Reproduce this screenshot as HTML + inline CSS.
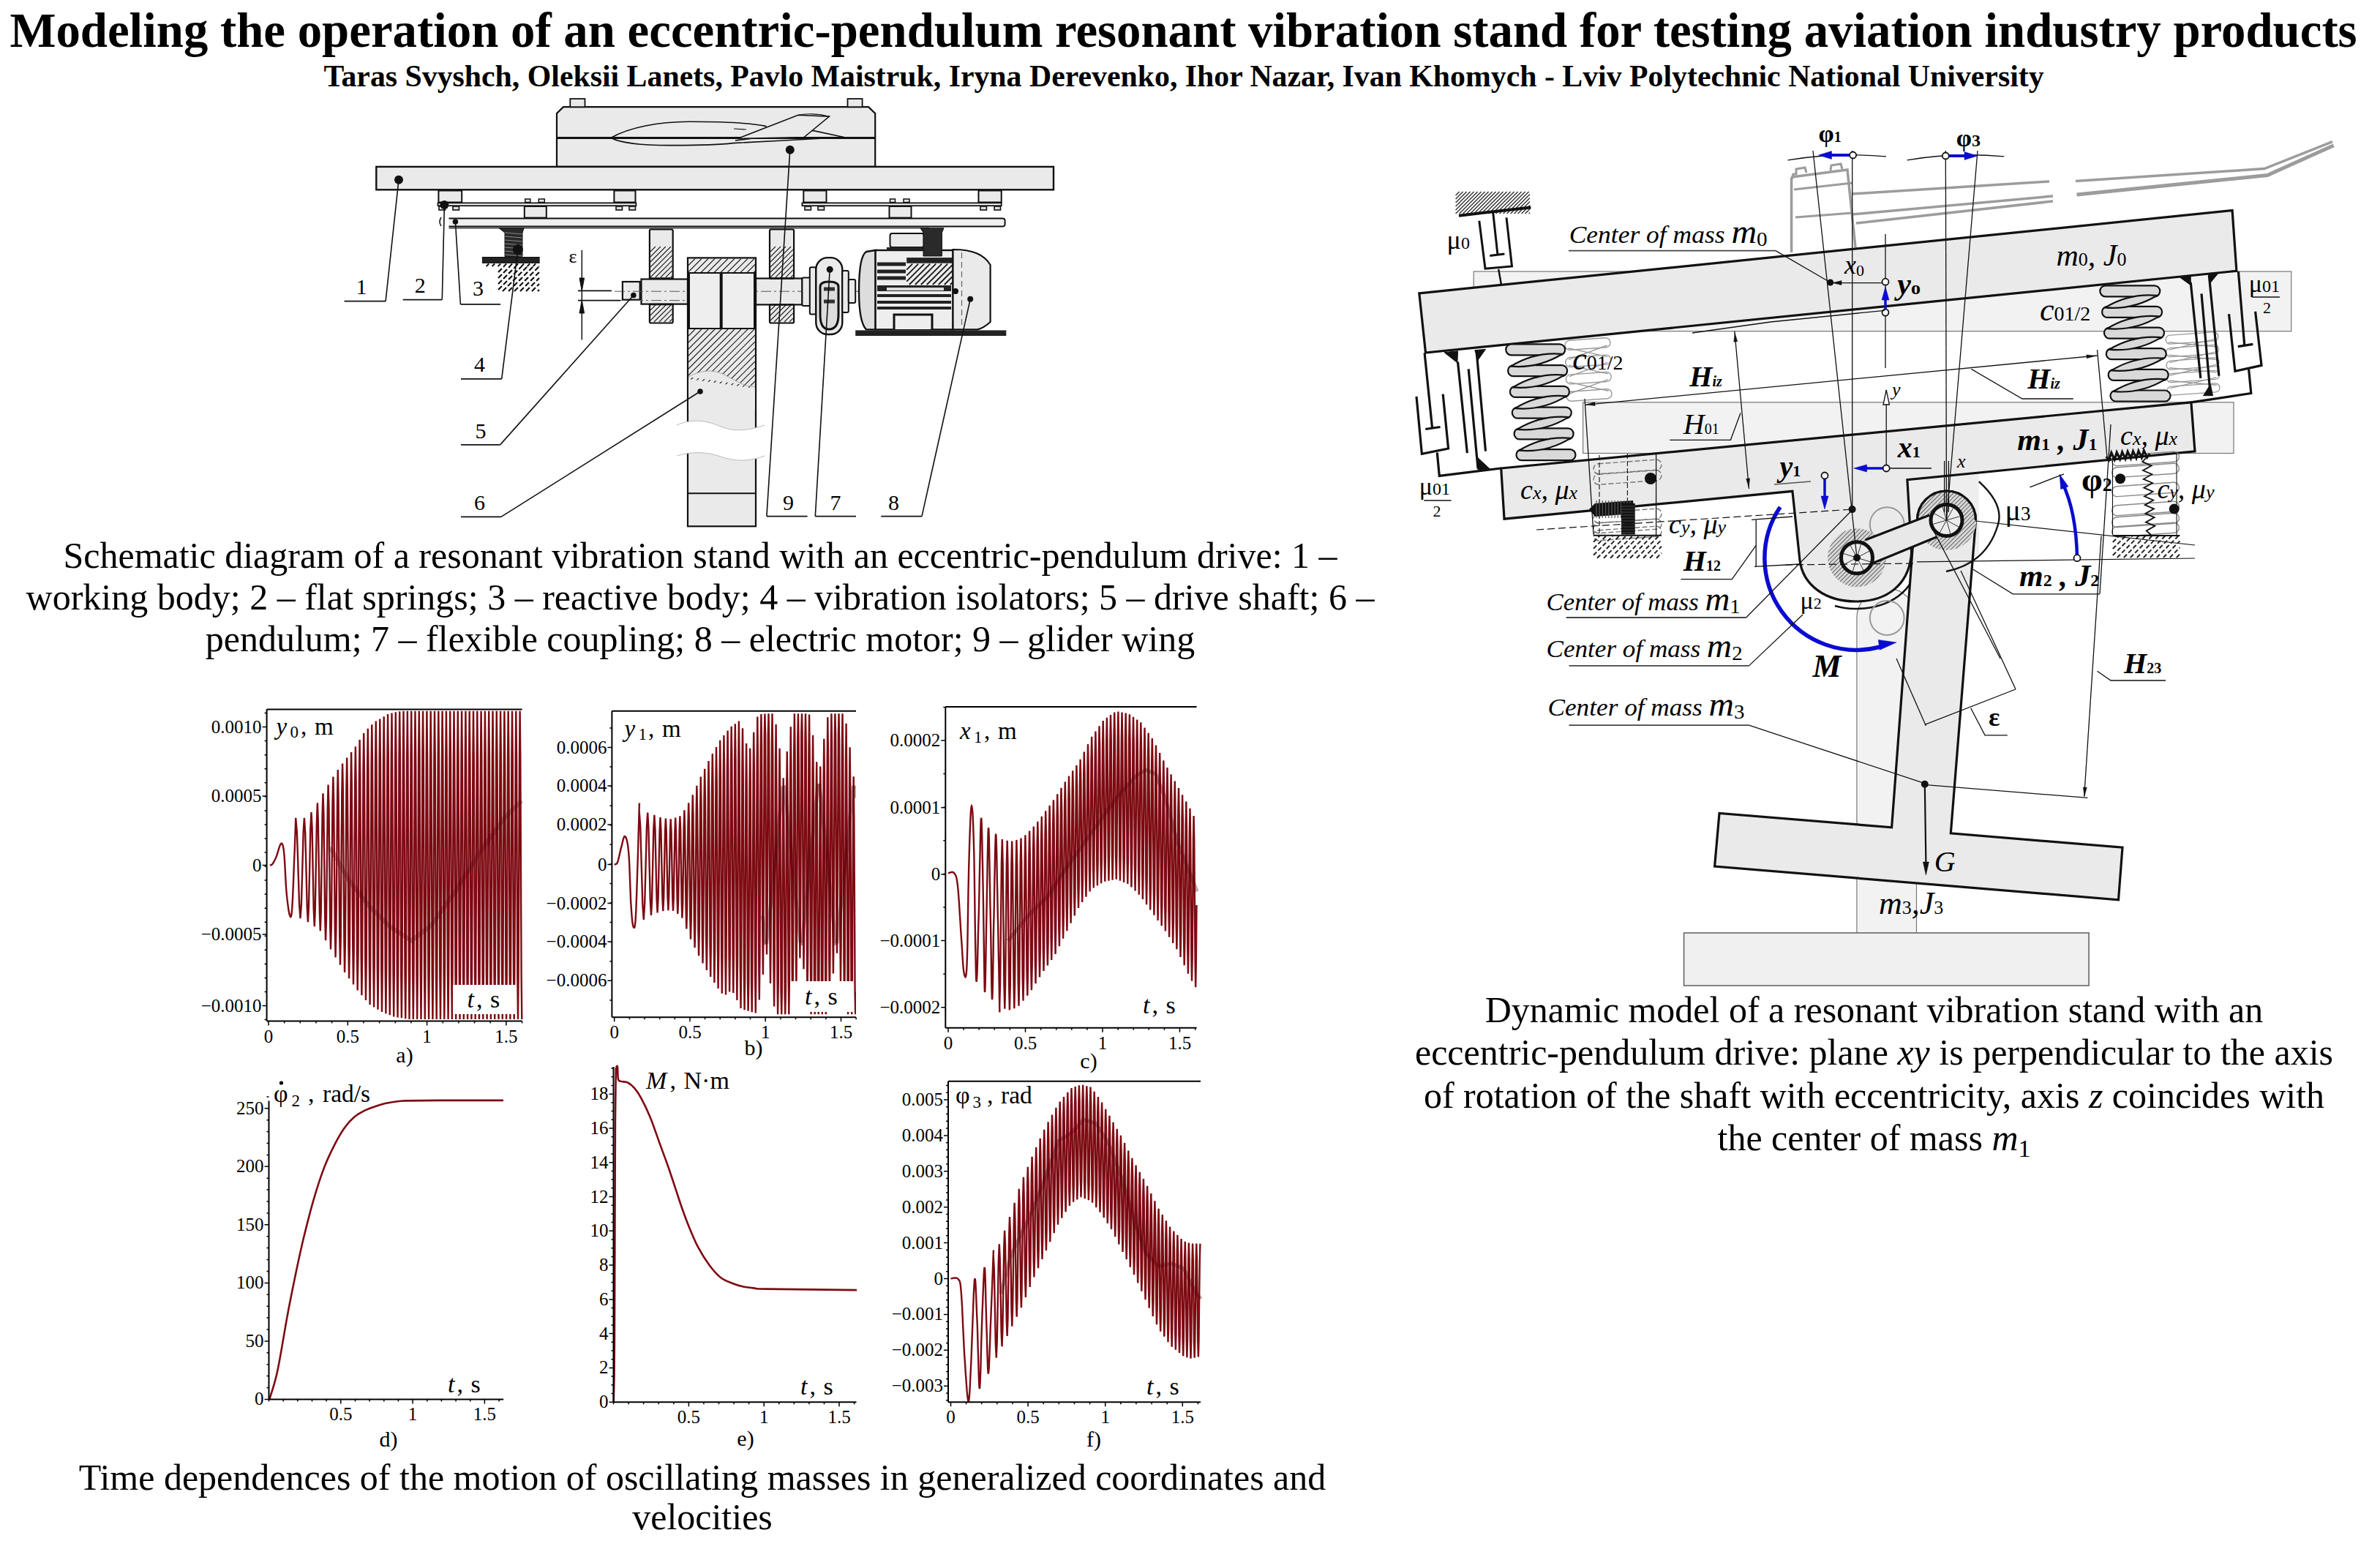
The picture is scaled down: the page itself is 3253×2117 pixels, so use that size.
<!DOCTYPE html>
<html><head><meta charset="utf-8"><style>
html,body{margin:0;padding:0;background:#fff;width:3253px;height:2117px;overflow:hidden}
svg{display:block}
text{font-family:"Liberation Serif",serif}
</style></head><body>
<svg xmlns="http://www.w3.org/2000/svg" width="3253" height="2117" viewBox="0 0 3253 2117">
<rect width="3253" height="2117" fill="#fff"/>
<text x="1617.5" y="64.3" font-size="66.8" text-anchor="middle" font-weight="bold">Modeling the operation of an eccentric-pendulum resonant vibration stand for testing aviation industry products</text>
<text x="1618" y="117.6" font-size="41.8" text-anchor="middle" font-weight="bold">Taras Svyshch, Oleksii Lanets, Pavlo Maistruk, Iryna Derevenko, Ihor Nazar, Ivan Khomych - Lviv Polytechnic National University</text>
<text x="957" y="775.5" font-size="50" text-anchor="middle">Schematic diagram of a resonant vibration stand with an eccentric-pendulum drive: 1 –</text>
<text x="957" y="832.5" font-size="50" text-anchor="middle">working body; 2 – flat springs; 3 – reactive body; 4 – vibration isolators; 5 – drive shaft; 6 –</text>
<text x="957" y="889.5" font-size="50" text-anchor="middle">pendulum; 7 – flexible coupling; 8 – electric motor; 9 – glider wing</text>
<text x="960" y="2035.5" font-size="50" text-anchor="middle">Time dependences of the motion of oscillating masses in generalized coordinates and</text>
<text x="960" y="2090" font-size="50" text-anchor="middle">velocities</text>
<text x="2561.5" y="1397" font-size="50" text-anchor="middle">Dynamic model of a resonant vibration stand with an</text>
<text x="2561.5" y="1455.3" font-size="50" text-anchor="middle">eccentric-pendulum drive: plane <tspan font-style="italic">xy</tspan> is perpendicular to the axis</text>
<text x="2561.5" y="1513.6" font-size="50" text-anchor="middle">of rotation of the shaft with eccentricity, axis <tspan font-style="italic">z</tspan> coincides with</text>
<text x="2561.5" y="1571.9" font-size="50" text-anchor="middle">the center of mass <tspan font-style="italic">m</tspan><tspan font-size="34" dy="9">1</tspan></text>
<path d="M369 1182.6L369.2 1182.5L369.6 1182.4L369.9 1182.4L370.4 1182.3L370.8 1182.1L371.3 1181.9L371.8 1181.5L372.3 1180.9L372.9 1180.1L373.5 1179.3L374 1178.3L374.7 1177.2L375.3 1176L376 1174.6L376.7 1173.1L377.4 1171.5L378.2 1169.4L379 1166.8L379.9 1163.9L380.8 1160.9L381.7 1158.1L382.6 1155.7L383.4 1153.9L384.1 1153L384.7 1152.8L385.3 1152.8L385.8 1153.4L386.3 1154.4L386.8 1156L387.2 1158.2L387.7 1161.1L388.1 1164.8L388.6 1169.6L389 1175.7L389.4 1182.8L389.8 1190.4L390.2 1198.1L390.6 1205.6L391 1212.5L391.5 1218.5L392 1223.8L392.5 1228.9L393.1 1233.8L393.7 1238.3L394.2 1242.3L394.8 1245.7L395.3 1248.4L395.8 1250.3L396.3 1251.7L396.7 1252.7L397.2 1253.2L397.6 1253L398 1251.9L398.4 1249.8L398.8 1246.6L399.2 1241.9L399.6 1235.4L400.1 1226.8L400.5 1216.7L401 1205.8L401.4 1194.5L401.8 1183.5L402.2 1173.4L402.6 1164.8L402.9 1157.1L403.1 1149.8L403.4 1142.9L403.6 1136.5L403.8 1130.6L404 1125.5L404.1 1121.2L404.2 1117.8L405.9 1137.7L407.5 1186.1L409 1234.8L410.5 1255.2L411.9 1235.6L413.3 1187.2L414.6 1138.2L415.9 1117.8L417.2 1138.4L418.5 1188.1L419.7 1238.7L420.9 1260.3L422 1239.3L423.2 1186.9L424.3 1133.2L425.5 1110L426.6 1131.6L427.6 1186.2L428.7 1242L429.8 1266.1L430.8 1242.8L431.8 1184.2L432.9 1123.8L433.9 1097.3L434.8 1121.1L435.8 1182.3L436.8 1245.2L437.8 1272.1L438.7 1246.7L439.6 1181.4L440.6 1113.9L441.5 1084.3L442.4 1111.7L443.3 1181.6L444.2 1253.7L445.1 1285.2L446 1256L446.9 1181.8L447.8 1105.5L448.6 1072.5L449.5 1103.6L450.3 1182.1L451.2 1262.6L452 1297.5L452.9 1264.8L453.7 1182.3L454.5 1097.8L455.4 1061.5L456.2 1095.9L457 1182.3L457.8 1270.5L458.6 1308.4L459.4 1272.5L460.3 1182.6L461.1 1091L461.8 1052L462.6 1089.6L463.4 1183L464.2 1278.2L465 1318.8L465.8 1280L466.5 1183.4L467.3 1085.2L468.1 1043.4L468.9 1083.8L469.6 1183.8L470.4 1285.5L471.1 1328.9L471.9 1287.3L472.7 1184.2L473.4 1079.6L474.2 1035.4L474.9 1078.4L475.7 1184.4L476.4 1291.8L477.1 1337.3L477.9 1293.3L478.6 1184.6L479.4 1074.5L480.1 1028L480.8 1073.3L481.5 1184.8L482.3 1297.7L483 1345.5L483.7 1299.2L484.4 1185L485.2 1069.4L485.9 1020.3L486.6 1067.7L487.3 1184.8L488 1303.4L488.7 1353.4L489.5 1304.5L490.2 1184.3L490.9 1062.6L491.6 1011.1L492.3 1060.8L493 1183.7L493.7 1307.9L494.4 1360.2L495.1 1309L495.8 1183.1L496.5 1055.7L497.2 1001.9L497.9 1054L498.6 1182.6L499.3 1312.4L500 1366.9L500.7 1313.6L501.4 1182.9L502.1 1051.1L502.8 995.7L503.5 1050.1L504.2 1183.1L504.9 1317.3L505.6 1373.2L506.2 1317.8L506.9 1182.8L507.6 1047.1L508.3 990.2L509 1046L509.7 1182.3L510.4 1319.3L511.1 1376.5L511.7 1319.8L512.4 1181.9L513.1 1043.4L513.8 985.6L514.5 1042.8L515.2 1181.9L515.8 1321.5L516.5 1379.8L517.2 1322.1L517.9 1181.9L518.6 1041.2L519.3 982.5L519.9 1040.6L520.6 1182L521.3 1323.9L522 1383L522.7 1324.3L523.3 1181.8L524 1038.9L524.7 979.3L525.4 1038.3L526 1181.6L526.7 1325.3L527.4 1385.2L528.1 1325.7L528.7 1181.3L529.4 1036.5L530.1 976.1L530.8 1035.9L531.4 1181.1L532.1 1326.7L532.8 1387.3L533.5 1327.1L534.1 1181.3L534.8 1035.1L535.5 974.4L536.1 1035L536.8 1181.5L537.5 1328.4L538.2 1389.5L538.8 1328.8L539.5 1181.7L540.2 1034.5L540.8 973.3L541.5 1034.3L542.2 1181.6L542.8 1329.2L543.5 1390.4L544.2 1329.4L544.9 1181.6L545.5 1033.7L546.2 972.3L546.9 1033.5L547.5 1181.6L548.2 1329.8L548.9 1391.3L549.5 1330L550.2 1181.7L550.9 1033.3L551.5 971.8L552.2 1033.3L552.9 1181.9L553.5 1330.6L554.2 1392.2L554.9 1330.7L555.5 1182.1L556.2 1033.4L556.9 971.8L557.5 1033.5L558.2 1182.3L558.9 1331.3L559.5 1393L560.2 1331.3L560.9 1182.4L561.5 1033.5L562.2 971.8L562.8 1033.5L563.5 1182.4L564.2 1331.3L564.8 1393L565.5 1331.3L566.2 1182.4L566.8 1033.5L567.5 971.8L568.2 1033.5L568.8 1182.4L569.5 1331.3L570.2 1393L570.8 1331.3L571.5 1182.4L572.1 1033.5L572.8 971.8L573.5 1033.5L574.1 1182.4L574.8 1331.3L575.5 1393L576.1 1331.3L576.8 1182.4L577.4 1033.5L578.1 971.8L578.8 1033.5L579.4 1182.4L580.1 1331.3L580.8 1393L581.4 1331.3L582.1 1182.4L582.8 1033.5L583.4 971.8L584.1 1033.5L584.7 1182.4L585.4 1331.3L586.1 1393L586.7 1331.3L587.4 1182.4L588.1 1033.5L588.7 971.8L589.4 1033.5L590 1182.4L590.7 1331.3L591.4 1393L592 1331.3L592.7 1182.4L593.4 1033.5L594 971.8L594.7 1033.5L595.3 1182.4L596 1331.3L596.7 1393L597.3 1331.3L598 1182.4L598.7 1033.5L599.3 971.8L600 1033.5L600.7 1182.4L601.3 1331.3L602 1393L602.6 1331.3L603.3 1182.4L604 1033.5L604.6 971.8L605.3 1033.5L606 1182.4L606.6 1331.3L607.3 1393L607.9 1331.3L608.6 1182.4L609.3 1033.5L609.9 971.8L610.6 1033.5L611.3 1182.4L611.9 1331.3L612.6 1393L613.2 1331.3L613.9 1182.4L614.6 1033.5L615.2 971.8L615.9 1033.5L616.6 1182.4L617.2 1331.3L617.9 1393L618.5 1331.3L619.2 1182.4L619.9 1033.5L620.5 971.8L621.2 1033.5L621.9 1182.4L622.5 1331.3L623.2 1393L623.8 1331.3L624.5 1182.4L625.2 1033.5L625.8 971.8L626.5 1033.5L627.2 1182.4L627.8 1331.3L628.5 1393L629.1 1331.3L629.8 1182.4L630.5 1033.5L631.1 971.8L631.8 1033.5L632.5 1182.4L633.1 1331.3L633.8 1393L634.4 1331.3L635.1 1182.4L635.8 1033.5L636.4 971.8L637.1 1033.5L637.8 1182.4L638.4 1331.3L639.1 1393L639.7 1331.3L640.4 1182.4L641.1 1033.5L641.7 971.8L642.4 1033.5L643.1 1182.4L643.7 1331.3L644.4 1393L645 1331.3L645.7 1182.4L646.4 1033.5L647 971.8L647.7 1033.5L648.4 1182.4L649 1331.3L649.7 1393L650.3 1331.3L651 1182.4L651.7 1033.5L652.3 971.8L653 1033.5L653.7 1182.4L654.3 1331.3L655 1393L655.6 1331.3L656.3 1182.4L657 1033.5L657.6 971.8L658.3 1033.5L659 1182.4L659.6 1331.3L660.3 1393L660.9 1331.3L661.6 1182.4L662.3 1033.5L662.9 971.8L663.6 1033.5L664.3 1182.4L664.9 1331.3L665.6 1393L666.2 1331.3L666.9 1182.4L667.6 1033.5L668.2 971.8L668.9 1033.5L669.6 1182.4L670.2 1331.3L670.9 1393L671.5 1331.3L672.2 1182.4L672.9 1033.5L673.5 971.8L674.2 1033.5L674.9 1182.4L675.5 1331.3L676.2 1393L676.8 1331.3L677.5 1182.4L678.2 1033.5L678.8 971.8L679.5 1033.5L680.2 1182.4L680.8 1331.3L681.5 1393L682.1 1331.3L682.8 1182.4L683.5 1033.5L684.1 971.8L684.8 1033.5L685.5 1182.4L686.1 1331.3L686.8 1393L687.4 1331.3L688.1 1182.4L688.8 1033.5L689.4 971.8L690.1 1033.5L690.8 1182.4L691.4 1331.3L692.1 1393L692.7 1331.3L693.4 1182.4L694.1 1033.5L694.7 971.8L695.4 1033.5L696.1 1182.4L696.7 1331.3L697.4 1393L698 1331.3L698.7 1182.4L699.4 1033.5L700 971.8L700.7 1033.5L701.3 1182.4L702 1331.3L702.7 1393L703.3 1331.3L704 1182.4L704.7 1033.5L705.3 971.8L706 1033.5L706.6 1182.4L707.3 1331.3L708 1393L708.6 1331.3L709.3 1182.4L710 1033.5L710.6 971.8L711.3 1033.5L711.9 1182.4L712.6 1331.3L713.3 1393" fill="none" stroke="#7d0a12" stroke-width="2.4"/>
<path d="M451.2 1158.1L478.1 1205L504.9 1238.6L531.7 1265.4L561.9 1285.6L588.8 1265.4L622.3 1218.5L655.9 1164.8L689.5 1117.8L713 1094.3" fill="none" stroke="#5a0008" stroke-width="6" opacity="0.3"/>
<rect x="619" y="1346" width="87" height="40" fill="#fff"/>
<text x="638.5" y="1377.4" font-size="34" font-style="italic">t</text>
<text x="651" y="1377.4" font-size="34">,</text>
<text x="670" y="1377.4" font-size="34">s</text>
<line x1="364.6" y1="969.5" x2="713.6" y2="969.5" stroke="#000" stroke-width="2"/>
<line x1="364.6" y1="1395.6" x2="364.6" y2="969.5" stroke="#000" stroke-width="2"/>
<path d="M358.6 993.6H364.6M358.6 1088H364.6M358.6 1182.5H364.6M358.6 1277H364.6M358.6 1374.5H364.6M361.6 974.6H364.6M361.6 993.6H364.6M361.6 1012.6H364.6M361.6 1031.7H364.6M361.6 1050.7H364.6M361.6 1069.8H364.6M361.6 1088.8H364.6M361.6 1107.9H364.6M361.6 1126.9H364.6M361.6 1146H364.6M361.6 1165H364.6M361.6 1184H364.6M361.6 1203.1H364.6M361.6 1222.1H364.6M361.6 1241.2H364.6M361.6 1260.2H364.6M361.6 1279.3H364.6M361.6 1298.3H364.6M361.6 1317.4H364.6M361.6 1336.4H364.6M361.6 1355.5H364.6M361.6 1374.5H364.6M361.6 1393.5H364.6" stroke="#000" stroke-width="1.5"/>
<text x="357.6" y="1001.6" font-size="25" text-anchor="end">0.0010</text>
<text x="357.6" y="1096" font-size="25" text-anchor="end">0.0005</text>
<text x="357.6" y="1190.5" font-size="25" text-anchor="end">0</text>
<text x="357.6" y="1285" font-size="25" text-anchor="end">−0.0005</text>
<text x="357.6" y="1382.5" font-size="25" text-anchor="end">−0.0010</text>
<line x1="364.6" y1="1395.6" x2="713.6" y2="1395.6" stroke="#000" stroke-width="2"/>
<path d="M367 1395.6V1401.6M475.3 1395.6V1401.6M583.6 1395.6V1401.6M691.9 1395.6V1401.6M367 1395.6V1398.6M388.7 1395.6V1398.6M410.3 1395.6V1398.6M432 1395.6V1398.6M453.6 1395.6V1398.6M475.3 1395.6V1398.6M497 1395.6V1398.6M518.6 1395.6V1398.6M540.3 1395.6V1398.6M561.9 1395.6V1398.6M583.6 1395.6V1398.6M605.3 1395.6V1398.6M626.9 1395.6V1398.6M648.6 1395.6V1398.6M670.2 1395.6V1398.6M691.9 1395.6V1398.6M713.6 1395.6V1398.6" stroke="#000" stroke-width="1.5"/>
<text x="367" y="1424.6" font-size="25" text-anchor="middle">0</text>
<text x="475.3" y="1424.6" font-size="25" text-anchor="middle">0.5</text>
<text x="583.6" y="1424.6" font-size="25" text-anchor="middle">1</text>
<text x="691.9" y="1424.6" font-size="25" text-anchor="middle">1.5</text>
<text x="377.5" y="1004" font-size="33" font-style="italic">y</text>
<text x="396.5" y="1008" font-size="23">0</text>
<text x="411" y="1004" font-size="33">,</text>
<text x="430" y="1004" font-size="33">m</text>
<text x="553" y="1452" font-size="30" text-anchor="middle">a)</text>
<clipPath id="cb"><rect x="836.4" y="971.8" width="333.6" height="418.5"/></clipPath>
<g clip-path="url(#cb)">
<path d="M839.7 1181.5L840.1 1181.4L840.5 1181.3L841 1181.3L841.6 1181.1L842.2 1180.8L842.9 1180.3L843.5 1179.4L844.1 1178.2L844.7 1176.4L845.3 1174.2L845.9 1171.6L846.6 1168.9L847.2 1166L847.9 1163.1L848.5 1160.4L849.1 1158.1L849.8 1155.7L850.4 1153.1L851 1150.4L851.6 1147.9L852.3 1145.7L852.9 1144L853.5 1143L854.2 1143L854.8 1143.6L855.5 1144.6L856.1 1146.1L856.8 1148.3L857.4 1151.2L858.1 1154.8L858.6 1159.3L859.2 1164.8L859.7 1171.8L860.2 1180.6L860.6 1190.6L861 1201.3L861.4 1211.9L861.8 1222.1L862.1 1231.2L862.6 1238.6L863 1244.7L863.4 1250.1L863.8 1254.8L864.2 1258.8L864.6 1262.1L865.1 1264.6L865.5 1266.3L865.9 1267.1L866.3 1267.6L866.7 1267.9L867.1 1267.7L867.5 1266.6L867.9 1264.2L868.4 1260.1L868.8 1253.9L869.3 1245.3L869.8 1232.7L870.4 1215.8L871 1196.1L871.7 1175.1L872.3 1154.3L872.8 1135.2L873.3 1119.1L873.6 1107.7L873.8 1101.1L873.9 1098L873.9 1097.6L873.9 1099.1L873.8 1101.7L873.7 1104.5L873.7 1106.8L873.6 1107.7L875.3 1130.4L876.8 1183.9L878.3 1236.1L879.8 1256.8L881.2 1234.5L882.6 1182.5L883.9 1131.3L885.2 1110.5L886.4 1131.6L887.6 1181.7L888.8 1231.1L890 1251L891.1 1230.1L892.2 1181.4L893.3 1133.3L894.4 1113.8L895.5 1133.9L896.5 1181.4L897.6 1228.4L898.6 1247.5L899.6 1227.9L900.6 1181.5L901.6 1135.6L902.5 1117L903.5 1136.2L904.4 1181.5L905.4 1226.6L906.3 1245.1L907.2 1226.4L908.1 1181.5L909 1136.9L909.9 1118.5L910.8 1137L911.6 1181.5L912.5 1225.9L913.4 1244.2L914.2 1225.8L915.1 1181.5L915.9 1137.5L916.7 1119.3L917.6 1137.6L918.4 1181.6L919.2 1226.1L920 1244.9L920.8 1226.8L921.6 1182L922.4 1136.6L923.2 1117.5L924 1136.3L924.8 1182.4L925.6 1229.1L926.3 1248.9L927.1 1229.8L927.9 1182.8L928.6 1135.2L929.4 1115.2L930.2 1134.8L930.9 1183.2L931.7 1232.5L932.4 1254.7L933.2 1235.3L933.9 1184.2L934.6 1130.9L935.4 1107.4L936.1 1129.2L936.8 1185.3L937.6 1243.6L938.3 1269.4L939 1246.3L939.7 1186.4L940.5 1124.3L941.2 1097.2L941.9 1122.7L942.6 1187.4L943.3 1254.4L944 1283.7L944.7 1257L945.4 1188.2L946.1 1117.2L946.8 1086.3L947.5 1114.9L948.2 1187.8L948.9 1262.8L949.6 1295.3L950.3 1264.7L951 1187.5L951.7 1108.2L952.4 1073.8L953.1 1105.9L953.8 1187.1L954.4 1270.4L955.1 1306.3L955.8 1272.3L956.5 1186.8L957.2 1099.3L957.8 1061.5L958.5 1097.1L959.2 1186.5L959.9 1277.6L960.5 1316.5L961.2 1279.2L961.9 1186.1L962.5 1091.3L963.2 1050.7L963.9 1089.3L964.5 1185.8L965.2 1284L965.9 1325.9L966.5 1285.6L967.2 1185.5L967.9 1083.6L968.5 1040.1L969.2 1081.6L969.8 1185.1L970.5 1290.3L971.2 1335.1L971.8 1291.9L972.5 1184.8L973.1 1076.2L973.8 1030.1L974.5 1074.5L975.1 1184.5L975.8 1295.9L976.4 1343.1L977.1 1297.3L977.7 1184.1L978.4 1069.5L979 1020.9L979.7 1067.8L980.3 1183.8L981 1301.3L981.6 1350.9L982.3 1302.6L982.9 1183.5L983.6 1062.9L984.2 1011.8L984.9 1061.3L985.5 1183.3L986.2 1306.2L986.8 1357.7L987.5 1306.8L988.1 1182.5L988.8 1057.2L989.4 1004.9L990.1 1055.5L990.7 1180.9L991.4 1307.1L992 1359.6L992.6 1306.6L993.3 1178.4L993.9 1049.6L994.6 998.5L995.2 1047.4L995.9 1175L996.5 1302.9L997.1 1355.4L997.8 1300.9L998.4 1170.8L999.1 1041.2L999.7 992.7L1000.4 1040.3L1001 1170.4L1001.6 1301.6L1002.3 1356.9L1002.9 1303.3L1003.6 1171.7L1004.2 1039.1L1004.8 989.2L1005.5 1039.2L1006.1 1173.9L1006.7 1309.6L1007.4 1367L1008 1312.2L1008.7 1177.2L1009.3 1041.6L1009.9 985.6L1010.6 1043.2L1011.2 1181.6L1011.8 1320.6L1012.5 1377.9L1013.1 1323.5L1013.8 1187.1L1014.4 1050.6L1015 995.2L1015.7 1054.2L1016.3 1193.6L1016.9 1332.2L1017.6 1380.2L1018.2 1334.9L1018.8 1201L1019.5 1068.6L1020.1 1016.1L1020.7 1074.4L1021.4 1209.2L1022 1342L1022.6 1381.8L1023.3 1343.4L1023.9 1212.6L1024.5 1079.8L1025.2 1022.7L1025.8 1075.4L1026.4 1207.5L1027.1 1341.3L1027.7 1383.3L1028.3 1339.6L1029 1201L1029.6 1060.8L1030.2 1000.7L1030.9 1055.7L1031.5 1193.1L1032.1 1331.4L1032.8 1384.6L1033.4 1327.4L1034 1184L1034.7 1040.4L1035.3 979.5L1035.9 1035.4L1036.6 1173.8L1037.2 1311.5L1037.8 1366.4L1038.5 1305L1039.1 1162.5L1039.7 1021.2L1040.4 976L1041 1016.9L1041.6 1150.2L1042.3 1281.3L1042.9 1331.9L1043.5 1272.1L1044.2 1137.3L1044.8 1005.6L1045.4 975.5L1046.1 1002.6L1046.7 1124.2L1047.3 1248.1L1048 1304.6L1048.6 1257.4L1049.2 1133.4L1049.8 1006.2L1050.5 975.2L1051.1 1009.3L1051.7 1145.2L1052.4 1283.4L1053 1344L1053.6 1291.6L1054.3 1157.4L1054.9 1021.7L1055.5 975.2L1056.2 1026.9L1056.8 1169.9L1057.4 1313.8L1058.1 1375.5L1058.7 1320.4L1059.3 1182.6L1060 1044.9L1060.6 990.1L1061.2 1051.8L1061.9 1195.2L1062.5 1337.7L1063.1 1386.2L1063.8 1342.5L1064.4 1207.7L1065 1074.7L1065.6 1022.8L1066.3 1082.9L1066.9 1219.8L1067.5 1354L1068.2 1386.2L1068.8 1356.8L1069.4 1231.4L1070.1 1109.5L1070.7 1063.2L1071.3 1113.6L1072 1233.9L1072.6 1357.8L1073.2 1386.2L1073.9 1355.3L1074.5 1222.4L1075.1 1086.7L1075.8 1026.9L1076.4 1078.3L1077 1210.4L1077.7 1344.5L1078.3 1386.2L1078.9 1339.8L1079.5 1198L1080.2 1055L1080.8 993.3L1081.4 1047.9L1082.1 1185.4L1082.7 1323.2L1083.3 1378.4L1084 1316.8L1084.6 1172.7L1085.2 1029.3L1085.9 975.2L1086.5 1024L1087.1 1160.2L1087.8 1295.1L1088.4 1347.9L1089 1287.1L1089.7 1147.9L1090.3 1010.9L1090.9 975.2L1091.5 1007.6L1092.2 1136L1092.8 1261.4L1093.4 1309.4L1094.1 1252.3L1094.7 1124.6L1095.3 1001.5L1096 975.2L1096.6 1003.5L1097.2 1132.9L1097.9 1265.6L1098.5 1324.4L1099.1 1274.3L1099.8 1144.7L1100.4 1012.7L1101 975.2L1101.7 1016.8L1102.3 1156.9L1102.9 1298.7L1103.5 1360.2L1104.2 1306.1L1104.8 1169.4L1105.4 1031.9L1106.1 976.5L1106.7 1037.9L1107.3 1182.1L1108 1326.1L1108.6 1386.2L1109.2 1331.9L1109.9 1194.7L1110.5 1058.4L1111.1 1004.7L1111.8 1066L1112.4 1207.1L1113 1346.5L1113.7 1386.2L1114.3 1350.3L1114.9 1219.3L1115.5 1090.8L1116.2 1041.3L1116.8 1099.6L1117.4 1230.9L1118.1 1358.9L1118.7 1386.2L1119.3 1360L1120 1234.4L1120.6 1105.2L1121.2 1047.6L1121.9 1096.2L1122.5 1222.9L1123.1 1352.5L1123.8 1386.2L1124.4 1348.9L1125 1210.9L1125.6 1070.9L1126.3 1009.8L1126.9 1063.1L1127.5 1198.6L1128.2 1335.2L1128.8 1386.2L1129.4 1329.7L1130.1 1186L1130.7 1041.9L1131.3 980.3L1132 1035.6L1132.6 1173.3L1133.2 1310.5L1133.9 1365L1134.5 1303.3L1135.1 1160.8L1135.8 1019.5L1136.4 975.2L1137 1015.1L1137.6 1148.4L1138.3 1279.6L1138.9 1330.4L1139.5 1271.1L1140.2 1136.5L1140.8 1005L1141.4 975.2L1142.1 1002.6L1142.7 1125.1L1143.3 1246.6L1144 1302.8L1144.6 1255.8L1145.2 1132.4L1145.9 1005.8L1146.5 975.2L1147.1 1008.8L1147.8 1144.1L1148.4 1282L1149 1342.4L1149.6 1290.2L1150.3 1156.3L1150.9 1020.9L1151.5 975.2L1152.2 1025.9L1152.8 1168.8L1153.4 1312.5L1154.1 1374.3L1154.7 1319.2L1155.3 1181.5L1156 1043.7L1156.6 988.8L1157.2 1050.5L1157.9 1194.1L1158.5 1336.7L1159.1 1386.2L1159.8 1341.7L1160.4 1206.6L1161 1073.2L1161.6 1021.2L1162.3 1081.4L1162.9 1218.7L1163.5 1353.4L1164.2 1386.2L1164.8 1356.3L1165.4 1230.4L1166.1 1107.8L1166.7 1061.2L1167.3 1115.3L1168 1234.9L1168.6 1358.2L1169.2 1386.2L1169.9 1355.8" fill="none" stroke="#7d0a12" stroke-width="2.4"/>
<path d="M1047.6 1289.7L1048.2 1284.2L1048.9 1278.6L1049.5 1272.9L1050.1 1267.2L1050.7 1261.4L1051.3 1255.6L1052 1249.6L1052.6 1243.7L1053.2 1237.7L1053.8 1231.6L1054.4 1225.5L1055.1 1219.4L1055.7 1213.3L1056.3 1207.1L1056.9 1200.9L1057.6 1194.7L1058.2 1188.5L1058.8 1182.2L1059.4 1176L1060 1169.8L1060.7 1163.6L1061.3 1157.4L1061.9 1151.2L1062.5 1145L1063.1 1138.9L1063.8 1132.8L1064.4 1126.7L1065 1120.7L1065.6 1114.7L1066.3 1108.8L1066.9 1102.9L1067.5 1097L1068.1 1091.3L1068.7 1085.6L1069.4 1079.9L1070 1074.4M1119.7 1070.7L1120.3 1076.2L1120.9 1081.8L1121.5 1087.5L1122.2 1093.2L1122.8 1099L1123.4 1104.8L1124 1110.7L1124.6 1116.7L1125.3 1122.7L1125.9 1128.7L1126.5 1134.8L1127.1 1140.9L1127.8 1147.1L1128.4 1153.3L1129 1159.4L1129.6 1165.6L1130.2 1171.9L1130.9 1178.1L1131.5 1184.3L1132.1 1190.5L1132.7 1196.8L1133.3 1203L1134 1209.1L1134.6 1215.3L1135.2 1221.4L1135.8 1227.6L1136.5 1233.6L1137.1 1239.7L1137.7 1245.7L1138.3 1251.6L1138.9 1257.5L1139.6 1263.4L1140.2 1269.1L1140.8 1274.8L1141.4 1280.5L1142 1286.1L1142.7 1291.6" fill="none" stroke="#4a0006" stroke-width="5" opacity="0.35"/>
<path d="M1071.8 1073.2L1072.5 1078.7L1073.1 1084.3L1073.7 1090L1074.3 1095.8L1075 1101.6L1075.6 1107.5L1076.2 1113.4L1076.8 1119.4L1077.4 1125.4L1078.1 1131.5L1078.7 1137.6L1079.3 1143.7L1079.9 1149.9L1080.5 1156L1081.2 1162.2L1081.8 1168.4L1082.4 1174.7L1083 1180.9L1083.6 1187.1L1084.3 1193.3L1084.9 1199.5L1085.5 1205.7L1086.1 1211.9L1086.8 1218.1L1087.4 1224.2L1088 1230.3L1088.6 1236.4L1089.2 1242.4L1089.9 1248.3L1090.5 1254.3L1091.1 1260.1L1091.7 1266L1092.3 1271.7L1093 1277.4L1093.6 1283L1094.2 1288.5M1143.9 1289.2L1144.5 1283.7L1145.2 1278L1145.8 1272.4L1146.4 1266.6L1147 1260.8L1147.6 1255L1148.3 1249L1148.9 1243.1L1149.5 1237.1L1150.1 1231L1150.7 1224.9L1151.4 1218.8L1152 1212.6L1152.6 1206.5L1153.2 1200.3L1153.8 1194.1L1154.5 1187.8L1155.1 1181.6L1155.7 1175.4L1156.3 1169.2L1157 1162.9L1157.6 1156.8L1158.2 1150.6L1158.8 1144.4L1159.4 1138.3L1160.1 1132.2L1160.7 1126.1L1161.3 1120.1L1161.9 1114.1L1162.5 1108.2L1163.2 1102.3L1163.8 1096.5L1164.4 1090.7L1165 1085L1165.7 1079.4L1166.3 1073.8" fill="none" stroke="#4a0006" stroke-width="5" opacity="0.35"/>
<path d="M1042.6 1251.9L1043.3 1258.3L1043.9 1264.7L1044.5 1271.3L1045.1 1277.9L1045.8 1284.5L1046.4 1290.9M1095.5 1292.2L1096.1 1286.7L1096.7 1281.1L1097.3 1275.5L1097.9 1269.8L1098.6 1264L1099.2 1258.2L1099.8 1252.3L1100.4 1246.4L1101 1240.4L1101.7 1234.3L1102.3 1228.3L1102.9 1222.2L1103.5 1216L1104.1 1209.9L1104.8 1203.7L1105.4 1197.5L1106 1191.3L1106.6 1185L1107.3 1178.8L1107.9 1172.6L1108.5 1166.4L1109.1 1160.2L1109.7 1154L1110.4 1147.8L1111 1141.6L1111.6 1135.5L1112.2 1129.4L1112.8 1123.4L1113.5 1117.4L1114.1 1111.4L1114.7 1105.5L1115.3 1099.7L1116 1093.9L1116.6 1088.1L1117.2 1082.5L1117.8 1076.9L1118.4 1071.4M1168.1 1073.7L1168.8 1079.3L1169.4 1084.9L1170 1090.6" fill="none" stroke="#4a0006" stroke-width="5" opacity="0.35"/>
</g>
<rect x="1081" y="1341" width="85" height="42" fill="#fff"/>
<text x="1100" y="1372.5" font-size="34" font-style="italic">t</text>
<text x="1112.5" y="1372.5" font-size="34">,</text>
<text x="1131.5" y="1372.5" font-size="34">s</text>
<line x1="836.4" y1="971.8" x2="1170" y2="971.8" stroke="#000" stroke-width="2"/>
<line x1="836.4" y1="1390.3" x2="836.4" y2="971.8" stroke="#000" stroke-width="2"/>
<path d="M830.4 1021.5H836.4M830.4 1074H836.4M830.4 1127H836.4M830.4 1181.5H836.4M830.4 1234.6H836.4M830.4 1287H836.4M830.4 1340.3H836.4M833.4 994.9H836.4M833.4 1021.5H836.4M833.4 1048.1H836.4M833.4 1074.6H836.4M833.4 1101.2H836.4M833.4 1127.8H836.4M833.4 1154.3H836.4M833.4 1180.9H836.4M833.4 1207.5H836.4M833.4 1234H836.4M833.4 1260.6H836.4M833.4 1287.2H836.4M833.4 1313.7H836.4M833.4 1340.3H836.4M833.4 1366.9H836.4" stroke="#000" stroke-width="1.5"/>
<text x="829.4" y="1029.5" font-size="25" text-anchor="end">0.0006</text>
<text x="829.4" y="1082" font-size="25" text-anchor="end">0.0004</text>
<text x="829.4" y="1135" font-size="25" text-anchor="end">0.0002</text>
<text x="829.4" y="1189.5" font-size="25" text-anchor="end">0</text>
<text x="829.4" y="1242.6" font-size="25" text-anchor="end">−0.0002</text>
<text x="829.4" y="1295" font-size="25" text-anchor="end">−0.0004</text>
<text x="829.4" y="1348.3" font-size="25" text-anchor="end">−0.0006</text>
<line x1="836.4" y1="1390.3" x2="1170" y2="1390.3" stroke="#000" stroke-width="2"/>
<path d="M839.7 1390.3V1396.3M943 1390.3V1396.3M1046.2 1390.3V1396.3M1149.5 1390.3V1396.3M839.7 1390.3V1393.3M860.4 1390.3V1393.3M881 1390.3V1393.3M901.7 1390.3V1393.3M922.3 1390.3V1393.3M943 1390.3V1393.3M963.6 1390.3V1393.3M984.2 1390.3V1393.3M1004.9 1390.3V1393.3M1025.5 1390.3V1393.3M1046.2 1390.3V1393.3M1066.9 1390.3V1393.3M1087.5 1390.3V1393.3M1108.2 1390.3V1393.3M1128.8 1390.3V1393.3M1149.5 1390.3V1393.3M1170.1 1390.3V1393.3" stroke="#000" stroke-width="1.5"/>
<text x="839.7" y="1419.3" font-size="25" text-anchor="middle">0</text>
<text x="943" y="1419.3" font-size="25" text-anchor="middle">0.5</text>
<text x="1046.2" y="1419.3" font-size="25" text-anchor="middle">1</text>
<text x="1149.5" y="1419.3" font-size="25" text-anchor="middle">1.5</text>
<text x="853.5" y="1006.5" font-size="33" font-style="italic">y</text>
<text x="872.5" y="1011" font-size="23">1</text>
<text x="886" y="1006.5" font-size="33">,</text>
<text x="905" y="1006.5" font-size="33">m</text>
<text x="1030" y="1442" font-size="30" text-anchor="middle">b)</text>
<path d="M1296 1193.3L1296.7 1193.2L1297.6 1192.9L1298.6 1192.5L1299.8 1192.1L1300.9 1191.9L1302.1 1192L1303.2 1192.4L1304.1 1193.3L1304.9 1194.3L1305.6 1195.3L1306.2 1196.4L1306.8 1197.9L1307.4 1200L1307.9 1202.8L1308.5 1206.7L1309.1 1211.7L1309.8 1218.5L1310.4 1227L1311.1 1236.7L1311.7 1247.1L1312.4 1257.7L1313 1267.9L1313.6 1277.4L1314.2 1285.6L1314.7 1292.8L1315.1 1299.9L1315.5 1306.5L1315.9 1312.6L1316.3 1318.1L1316.7 1322.8L1317.1 1326.5L1317.5 1329.2L1318 1331.4L1318.5 1333.4L1319 1334.8L1319.6 1335.3L1320.1 1334.4L1320.6 1331.6L1321.1 1326.7L1321.5 1319.1L1321.9 1307.9L1322.3 1293.1L1322.6 1275.6L1322.9 1256.5L1323.2 1236.9L1323.5 1217.7L1323.9 1200L1324.2 1184.9L1324.6 1171.2L1325 1157.6L1325.4 1144.5L1325.9 1132.4L1326.3 1121.6L1326.7 1112.8L1327.2 1106.3L1327.6 1102.7L1328 1101.6L1328.4 1102.4L1328.8 1105.2L1329.3 1110.1L1329.7 1117.1L1330.1 1126.3L1330.5 1137.7L1330.9 1151.3L1331.4 1170L1331.8 1195L1332.2 1223.7L1332.6 1253.8L1333 1282.8L1333.5 1308.4L1333.9 1328L1334.3 1339.3L1334.7 1341.8L1335.1 1337.9L1335.6 1328.8L1336 1315.8L1336.4 1300.3L1336.8 1283.6L1337.2 1267L1337.7 1252L1338.1 1235.9L1338.5 1216.3L1338.9 1194.8L1339.4 1173.2L1339.8 1153L1340.2 1135.9L1340.6 1123.6L1341 1117.8L1341.4 1118.9L1341.7 1125.6L1342.1 1136.7L1342.4 1151.1L1342.7 1167.7L1343.1 1185.2L1343.4 1202.5L1343.7 1218.5L1344 1235.5L1344.3 1255.9L1344.6 1278L1344.9 1300L1345.2 1320.5L1345.5 1337.8L1345.7 1350.2L1346 1356L1346.3 1354.7L1346.6 1347.4L1346.9 1335.5L1347.2 1320.2L1347.5 1302.9L1347.8 1284.9L1348.1 1267.5L1348.4 1252L1348.7 1236.1L1349 1217.3L1349.4 1197.3L1349.7 1177.6L1350.1 1159.6L1350.4 1144.8L1350.7 1134.9L1351.1 1131.2L1351.4 1134.8L1351.8 1144.6L1352.1 1159.1L1352.4 1176.9L1352.8 1196.6L1353.1 1216.6L1353.4 1235.6L1353.8 1252L1354.1 1268.2L1354.4 1286.4L1354.7 1305.3L1355 1323.7L1355.2 1340.3L1355.5 1353.8L1355.8 1362.8L1356.1 1366.1L1356.4 1362.8L1356.7 1353.6L1357 1340L1357.3 1323.2L1357.6 1304.7L1357.8 1285.8L1358.1 1267.8L1358.5 1252L1358.8 1236.3L1359.1 1218.5L1359.4 1199.9L1359.8 1181.6L1360.1 1165.2L1360.5 1151.9L1360.8 1142.9L1361.1 1139.6L1361.5 1142.8L1361.8 1151.7L1362.2 1164.8L1362.5 1181.1L1362.8 1199.2L1363.2 1217.9L1363.5 1235.9L1363.8 1252L1364.2 1267.7L1364.5 1284.8L1364.8 1302.6L1365.2 1320.3L1365.5 1337.1L1365.8 1352.3L1366 1365L1366.2 1374.5L1366.3 1380.4L1366.3 1383.1L1366.3 1383.5L1366.3 1382.2L1366.3 1379.9L1366.2 1377.4L1366.2 1375.3L1366.2 1374.5L1367.1 1341.4L1368 1260.7L1368.9 1180.1L1369.8 1147L1370.7 1181.2L1371.5 1262.8L1372.4 1344.4L1373.3 1378.6L1374.1 1345.3L1375 1264L1375.8 1182.5L1376.7 1148.7L1377.5 1182.8L1378.3 1265L1379.1 1346.8L1379.9 1380.4L1380.8 1346.3L1381.6 1264.6L1382.4 1183.1L1383.2 1149.5L1384 1183.2L1384.8 1264.1L1385.6 1344.8L1386.3 1378.1L1387.1 1344.2L1387.9 1263L1388.7 1181.7L1389.4 1147.9L1390.2 1181.1L1391 1261.8L1391.7 1342.2L1392.5 1374.8L1393.2 1340.6L1394 1259.6L1394.7 1179L1395.5 1145.6L1396.2 1178.3L1397 1257.2L1397.7 1335.8L1398.5 1367.6L1399.2 1334.1L1399.9 1254.3L1400.7 1174.7L1401.4 1141.3L1402.1 1173.2L1402.8 1251.1L1403.5 1329L1404.3 1360.7L1405 1327.3L1405.7 1248L1406.4 1168.8L1407.1 1135.6L1407.8 1167.3L1408.5 1244.8L1409.2 1321.9L1409.9 1353.1L1410.7 1319.8L1411.4 1241.1L1412.1 1162.6L1412.8 1129.6L1413.5 1160.8L1414.1 1237.1L1414.8 1313.3L1415.5 1344.2L1416.2 1311.2L1416.9 1233.2L1417.6 1155.4L1418.3 1122.7L1419 1153.6L1419.7 1229.3L1420.4 1304.8L1421 1335.4L1421.7 1302.7L1422.4 1225.4L1423.1 1148.2L1423.8 1115.8L1424.4 1146.5L1425.1 1221.5L1425.8 1296.5L1426.5 1327L1427.2 1294.6L1427.8 1217.7L1428.5 1140.8L1429.2 1108.4L1429.9 1138.9L1430.5 1213.9L1431.2 1288.9L1431.9 1319.4L1432.6 1287L1433.2 1210.2L1433.9 1133.3L1434.6 1100.9L1435.2 1131.4L1435.9 1206.4L1436.6 1281.4L1437.2 1311.9L1437.9 1279.5L1438.6 1202.7L1439.2 1125.8L1439.9 1093.4L1440.6 1123.9L1441.2 1198.9L1441.9 1273.8L1442.6 1303.9L1443.2 1271.2L1443.9 1194.3L1444.6 1117.6L1445.2 1085.3L1445.9 1115.4L1446.5 1189.6L1447.2 1263.5L1447.9 1293.3L1448.5 1261L1449.2 1184.8L1449.8 1108.9L1450.5 1076.8L1451.2 1106.7L1451.8 1180.1L1452.5 1253.3L1453.1 1282.8L1453.8 1250.7L1454.4 1175.3L1455.1 1100.1L1455.8 1068.4L1456.4 1097.9L1457.1 1170.6L1457.7 1243.1L1458.4 1272.3L1459 1240.6L1459.7 1166L1460.4 1091.7L1461 1060.5L1461.7 1089.8L1462.3 1161.6L1463 1233.1L1463.6 1261.8L1464.3 1230.6L1464.9 1157.1L1465.6 1084L1466.2 1053.2L1466.9 1082L1467.5 1152.7L1468.2 1223.1L1468.8 1251.4L1469.5 1220.6L1470.1 1148.3L1470.8 1076.2L1471.4 1045.9L1472.1 1074.3L1472.7 1143.8L1473.4 1213.1L1474 1241L1474.7 1210.6L1475.3 1139.4L1476 1068.2L1476.6 1037.8L1477.3 1065.7L1477.9 1135L1478.6 1204.6L1479.2 1233L1479.9 1202.7L1480.5 1130.6L1481.2 1058.2L1481.8 1027.4L1482.5 1055.7L1483.1 1126.2L1483.8 1196.9L1484.4 1225.7L1485.1 1195L1485.7 1121.8L1486.4 1048.3L1487 1017L1487.7 1045.8L1488.3 1117.4L1489 1189.2L1489.6 1218.5L1490.2 1187.3L1490.9 1113L1491.5 1038.4L1492.2 1006.8L1492.8 1036.5L1493.5 1109.6L1494.1 1183.1L1494.8 1213.4L1495.4 1182.2L1496.1 1107L1496.7 1031.5L1497.4 999.6L1498 1029.8L1498.7 1104.4L1499.3 1179.4L1499.9 1210.3L1500.6 1178.5L1501.2 1101.9L1501.9 1024.9L1502.5 992.3L1503.2 1023.2L1503.8 1099.3L1504.5 1175.7L1505.1 1207.2L1505.8 1174.8L1506.4 1096.7L1507.1 1018.2L1507.7 985.1L1508.3 1016.6L1509 1094.2L1509.6 1172.4L1510.3 1204.7L1510.9 1172L1511.6 1093L1512.2 1013.8L1512.9 980.7L1513.5 1013L1514.2 1091.9L1514.8 1171L1515.4 1203.7L1516.1 1170.6L1516.7 1090.7L1517.4 1010.6L1518 977.1L1518.7 1009.8L1519.3 1089.6L1520 1169.5L1520.6 1202.7L1521.3 1169.2L1521.9 1088.4L1522.5 1007.4L1523.2 973.5L1523.8 1006.6L1524.5 1087.2L1525.1 1168.1L1525.8 1201.8L1526.4 1168.3L1527.1 1087.2L1527.7 1006L1528.4 972.4L1529 1006.3L1529.7 1088L1530.3 1169.8L1530.9 1203.8L1531.6 1170.2L1532.2 1088.7L1532.9 1007.2L1533.5 973.4L1534.2 1007.4L1534.8 1089.5L1535.5 1171.7L1536.1 1205.9L1536.8 1172.2L1537.4 1090.3L1538 1008.3L1538.7 974.4L1539.3 1008.6L1540 1091.1L1540.6 1173.6L1541.3 1208L1541.9 1174.1L1542.6 1092L1543.2 1010L1543.9 976.2L1544.5 1010.9L1545.1 1094.2L1545.8 1177.5L1546.4 1212.5L1547.1 1178.8L1547.7 1096.3L1548.4 1013.8L1549 979.8L1549.7 1014.8L1550.3 1098.5L1550.9 1182.5L1551.6 1217.6L1552.2 1183.7L1552.9 1100.7L1553.5 1017.6L1554.2 983.4L1554.8 1018.6L1555.5 1102.9L1556.1 1187.4L1556.8 1222.8L1557.4 1188.6L1558 1105.1L1558.7 1021.5L1559.3 987.2L1560 1023L1560.6 1108.1L1561.3 1193.3L1561.9 1229.1L1562.6 1195.1L1563.2 1111.8L1563.9 1028.4L1564.5 994.4L1565.1 1030.2L1565.8 1115.4L1566.4 1200.5L1567.1 1236.3L1567.7 1202.3L1568.4 1119L1569 1035.7L1569.7 1001.7L1570.3 1037.5L1571 1122.6L1571.6 1207.7L1572.2 1243.5L1572.9 1209.5L1573.5 1126.2L1574.2 1042.9L1574.8 1008.9L1575.5 1044.7L1576.1 1129.9L1576.8 1215L1577.4 1250.8L1578.1 1217L1578.7 1134.3L1579.3 1051.9L1580 1018.6L1580.6 1054.3L1581.3 1138.7L1581.9 1222.7L1582.6 1258L1583.2 1224.6L1583.9 1143.1L1584.5 1061.7L1585.2 1028.9L1585.8 1064.2L1586.4 1147.4L1587.1 1230.4L1587.7 1265.2L1588.4 1232.3L1589 1151.8L1589.7 1071.6L1590.3 1039.2L1591 1074.1L1591.6 1156.2L1592.2 1238.1L1592.9 1272.5L1593.5 1240.1L1594.2 1160.6L1594.8 1081.2L1595.5 1049L1596.1 1083.5L1596.8 1165L1597.4 1246.4L1598.1 1280.7L1598.7 1248.5L1599.3 1169.4L1600 1090.3L1600.6 1058.3L1601.3 1092.6L1601.9 1173.8L1602.6 1254.8L1603.2 1289L1603.9 1256.9L1604.5 1178.2L1605.2 1099.5L1605.8 1067.6L1606.4 1101.7L1607.1 1182.5L1607.7 1263.3L1608.4 1297.3L1609 1265.4L1609.7 1187L1610.3 1108.7L1611 1076.9L1611.6 1111.1L1612.3 1192.2L1612.9 1273.4L1613.5 1308L1614.2 1276.2L1614.8 1197.3L1615.5 1118.3L1616.1 1086.2L1616.8 1120.7L1617.4 1202.5L1618.1 1284.5L1618.7 1319.3L1619.4 1287.2L1620 1207.6L1620.6 1127.9L1621.3 1095.4L1621.9 1130.3L1622.6 1212.8L1623.2 1295.5L1623.9 1330.7L1624.5 1298.3L1625.2 1218L1625.8 1137.5L1626.5 1104.8L1627.1 1139.9L1627.7 1222.9L1628.4 1305.7L1629 1340.6L1629.7 1307.9L1630.3 1227.6L1631 1147.5L1631.6 1115.1L1632.3 1150L1632.9 1232.4L1633.6 1314.5L1634.2 1349.2L1634.8 1316.7L1635.5 1237.1" fill="none" stroke="#7d0a12" stroke-width="2.4"/>
<path d="M1377.9 1285.6L1404.8 1252L1431.6 1225.2L1458.5 1184.9L1492 1137.9L1525.6 1090.9L1552.4 1060.7L1565.8 1052.3L1579.3 1057.4L1592.7 1090.9L1609.5 1151.3L1636.3 1218.5" fill="none" stroke="#5a0008" stroke-width="5" opacity="0.35"/>
<text x="1562" y="1385" font-size="34" font-style="italic">t</text>
<text x="1574.5" y="1385" font-size="34">,</text>
<text x="1593.5" y="1385" font-size="34">s</text>
<line x1="1292.3" y1="966" x2="1635.6" y2="966" stroke="#000" stroke-width="2"/>
<line x1="1292.3" y1="1404.7" x2="1292.3" y2="966" stroke="#000" stroke-width="2"/>
<path d="M1286.3 1012H1292.3M1286.3 1103.7H1292.3M1286.3 1195H1292.3M1286.3 1285.6H1292.3M1286.3 1376.8H1292.3M1289.3 966.4H1292.3M1289.3 1012H1292.3M1289.3 1057.6H1292.3M1289.3 1103.2H1292.3M1289.3 1148.8H1292.3M1289.3 1194.4H1292.3M1289.3 1240H1292.3M1289.3 1285.6H1292.3M1289.3 1331.2H1292.3M1289.3 1376.8H1292.3" stroke="#000" stroke-width="1.5"/>
<text x="1285.3" y="1020" font-size="25" text-anchor="end">0.0002</text>
<text x="1285.3" y="1111.7" font-size="25" text-anchor="end">0.0001</text>
<text x="1285.3" y="1203" font-size="25" text-anchor="end">0</text>
<text x="1285.3" y="1293.6" font-size="25" text-anchor="end">−0.0001</text>
<text x="1285.3" y="1384.8" font-size="25" text-anchor="end">−0.0002</text>
<line x1="1292.3" y1="1404.7" x2="1635.6" y2="1404.7" stroke="#000" stroke-width="2"/>
<path d="M1296 1404.7V1410.7M1401.5 1404.7V1410.7M1507 1404.7V1410.7M1612.5 1404.7V1410.7M1296 1404.7V1407.7M1317.1 1404.7V1407.7M1338.2 1404.7V1407.7M1359.3 1404.7V1407.7M1380.4 1404.7V1407.7M1401.5 1404.7V1407.7M1422.6 1404.7V1407.7M1443.7 1404.7V1407.7M1464.8 1404.7V1407.7M1485.9 1404.7V1407.7M1507 1404.7V1407.7M1528.1 1404.7V1407.7M1549.2 1404.7V1407.7M1570.3 1404.7V1407.7M1591.4 1404.7V1407.7M1612.5 1404.7V1407.7M1633.6 1404.7V1407.7" stroke="#000" stroke-width="1.5"/>
<text x="1296" y="1433.7" font-size="25" text-anchor="middle">0</text>
<text x="1401.5" y="1433.7" font-size="25" text-anchor="middle">0.5</text>
<text x="1507" y="1433.7" font-size="25" text-anchor="middle">1</text>
<text x="1612.5" y="1433.7" font-size="25" text-anchor="middle">1.5</text>
<text x="1312" y="1010.2" font-size="33" font-style="italic">x</text>
<text x="1331" y="1015" font-size="23">1</text>
<text x="1345" y="1010.2" font-size="33">,</text>
<text x="1364" y="1010.2" font-size="33">m</text>
<text x="1488" y="1460" font-size="30" text-anchor="middle">c)</text>
<path d="M368.3 1912.3C370.2 1905.7 375.3 1892.4 379.4 1872.9C383.6 1853.4 389.1 1817.4 393.3 1795.2C397.5 1773 400.7 1757.3 404.4 1739.7C408.1 1722.1 411.3 1706.9 415.5 1689.8C419.7 1672.7 424.7 1652.8 429.4 1637.1C434 1621.3 438.6 1607.5 443.2 1595.4C447.9 1583.4 452.5 1573.9 457.1 1564.9C461.7 1555.9 466.4 1547.8 471 1541.3C475.6 1534.9 480.2 1530 484.9 1526.1C489.5 1522.1 494.1 1520.1 498.7 1517.7C503.4 1515.4 508 1513.8 512.6 1512.2C517.2 1510.6 521.9 1509.1 526.5 1508C531.1 1507 535.7 1506.4 540.4 1505.8C545 1505.2 544.3 1504.8 554.2 1504.4C564.2 1504.1 577.7 1504 600 1503.9C622.3 1503.8 673.3 1503.9 688 1503.9" fill="none" stroke="#7d0a12" stroke-width="2.6" stroke-linejoin="round"/>
<line x1="367.5" y1="1912.4" x2="367.5" y2="1504.5" stroke="#000" stroke-width="2"/>
<path d="M361.5 1912.4H367.5M361.5 1832.9H367.5M361.5 1753.4H367.5M361.5 1673.8H367.5M361.5 1594.3H367.5M361.5 1514.8H367.5M364.5 1912.4H367.5M364.5 1896.5H367.5M364.5 1880.6H367.5M364.5 1864.7H367.5M364.5 1848.8H367.5M364.5 1832.9H367.5M364.5 1817H367.5M364.5 1801.1H367.5M364.5 1785.2H367.5M364.5 1769.3H367.5M364.5 1753.4H367.5M364.5 1737.5H367.5M364.5 1721.6H367.5M364.5 1705.6H367.5M364.5 1689.7H367.5M364.5 1673.8H367.5M364.5 1657.9H367.5M364.5 1642H367.5M364.5 1626.1H367.5M364.5 1610.2H367.5M364.5 1594.3H367.5M364.5 1578.4H367.5M364.5 1562.5H367.5M364.5 1546.6H367.5M364.5 1530.7H367.5M364.5 1514.8H367.5M364.5 1498.9H367.5" stroke="#000" stroke-width="1.5"/>
<text x="360.5" y="1920.4" font-size="25" text-anchor="end">0</text>
<text x="360.5" y="1840.9" font-size="25" text-anchor="end">50</text>
<text x="360.5" y="1761.4" font-size="25" text-anchor="end">100</text>
<text x="360.5" y="1681.8" font-size="25" text-anchor="end">150</text>
<text x="360.5" y="1602.3" font-size="25" text-anchor="end">200</text>
<text x="360.5" y="1522.8" font-size="25" text-anchor="end">250</text>
<line x1="367.5" y1="1912.4" x2="688.2" y2="1912.4" stroke="#000" stroke-width="2"/>
<path d="M465.8 1912.4V1918.4M564.1 1912.4V1918.4M662.4 1912.4V1918.4M367.5 1912.4V1915.4M387.2 1912.4V1915.4M406.8 1912.4V1915.4M426.5 1912.4V1915.4M446.1 1912.4V1915.4M465.8 1912.4V1915.4M485.5 1912.4V1915.4M505.1 1912.4V1915.4M524.8 1912.4V1915.4M544.4 1912.4V1915.4M564.1 1912.4V1915.4M583.8 1912.4V1915.4M603.4 1912.4V1915.4M623.1 1912.4V1915.4M642.7 1912.4V1915.4M662.4 1912.4V1915.4M682.1 1912.4V1915.4" stroke="#000" stroke-width="1.5"/>
<text x="465.8" y="1941.4" font-size="25" text-anchor="middle">0.5</text>
<text x="564.1" y="1941.4" font-size="25" text-anchor="middle">1</text>
<text x="662.4" y="1941.4" font-size="25" text-anchor="middle">1.5</text>
<text x="612" y="1903" font-size="34" font-style="italic">t</text>
<text x="624.5" y="1903" font-size="34">,</text>
<text x="643.5" y="1903" font-size="34">s</text>
<text x="374" y="1506" font-size="34">φ</text>
<text x="398.5" y="1512" font-size="23">2</text>
<text x="421" y="1506" font-size="34">,</text>
<text x="441" y="1506" font-size="33.5">rad/s</text>
<circle cx="384.5" cy="1480" r="2.6"/>
<text x="531" y="1977" font-size="30" text-anchor="middle">d)</text>
<path d="M838.7 1916L839.5 1880L839.9 1831.3L840.9 1533.7L841.8 1459.3" fill="none" stroke="#7d0a12" stroke-width="2.6" stroke-linejoin="round"/>
<path d="M841.8 1459.3C842.2 1459 843.5 1455.2 844 1457.8C844.5 1460.4 844.1 1471.4 844.9 1474.8C845.7 1478.2 846.4 1477.1 848.6 1477.9C850.8 1478.7 854.8 1478 857.9 1479.5C861 1481 864.1 1483.6 867.2 1487.2C870.3 1490.8 872.9 1494.5 876.5 1501.2C880.1 1507.9 884.8 1517.4 888.9 1527.5C893 1537.6 897.2 1550.2 901.3 1561.6C905.4 1573 910.1 1585.4 913.7 1595.7C917.3 1606 919.9 1614.3 923 1623.6C926.1 1632.9 929.2 1642.7 932.3 1651.5C935.4 1660.3 938 1667.5 941.6 1676.3C945.2 1685.1 949.4 1695.4 954 1704.2C958.6 1713 964.3 1722 969.5 1729C974.7 1736 979.8 1741.9 985 1746C990.2 1750.1 995.3 1751.7 1000.5 1753.8C1005.7 1755.9 1010.8 1757.4 1016 1758.5C1021.2 1759.6 1026.3 1760.1 1031.5 1760.6C1036.7 1761.1 1023.8 1761.2 1047 1761.6C1070.2 1762 1150.3 1762.8 1171 1763.1" fill="none" stroke="#7d0a12" stroke-width="2.6" stroke-linejoin="round"/>
<line x1="838.5" y1="1916.2" x2="838.5" y2="1458" stroke="#000" stroke-width="2"/>
<path d="M832.5 1916.2H838.5M832.5 1869.4H838.5M832.5 1822.6H838.5M832.5 1775.9H838.5M832.5 1729.1H838.5M832.5 1682.3H838.5M832.5 1635.5H838.5M832.5 1588.7H838.5M832.5 1542H838.5M832.5 1495.2H838.5M835.5 1916.2H838.5M835.5 1904.5H838.5M835.5 1892.8H838.5M835.5 1881.1H838.5M835.5 1869.4H838.5M835.5 1857.7H838.5M835.5 1846H838.5M835.5 1834.3H838.5M835.5 1822.6H838.5M835.5 1810.9H838.5M835.5 1799.2H838.5M835.5 1787.6H838.5M835.5 1775.9H838.5M835.5 1764.2H838.5M835.5 1752.5H838.5M835.5 1740.8H838.5M835.5 1729.1H838.5M835.5 1717.4H838.5M835.5 1705.7H838.5M835.5 1694H838.5M835.5 1682.3H838.5M835.5 1670.6H838.5M835.5 1658.9H838.5M835.5 1647.2H838.5M835.5 1635.5H838.5M835.5 1623.8H838.5M835.5 1612.1H838.5M835.5 1600.4H838.5M835.5 1588.7H838.5M835.5 1577H838.5M835.5 1565.3H838.5M835.5 1553.7H838.5M835.5 1542H838.5M835.5 1530.3H838.5M835.5 1518.6H838.5M835.5 1506.9H838.5M835.5 1495.2H838.5M835.5 1483.5H838.5M835.5 1471.8H838.5M835.5 1460.1H838.5" stroke="#000" stroke-width="1.5"/>
<text x="831.5" y="1924.2" font-size="25" text-anchor="end">0</text>
<text x="831.5" y="1877.4" font-size="25" text-anchor="end">2</text>
<text x="831.5" y="1830.6" font-size="25" text-anchor="end">4</text>
<text x="831.5" y="1783.9" font-size="25" text-anchor="end">6</text>
<text x="831.5" y="1737.1" font-size="25" text-anchor="end">8</text>
<text x="831.5" y="1690.3" font-size="25" text-anchor="end">10</text>
<text x="831.5" y="1643.5" font-size="25" text-anchor="end">12</text>
<text x="831.5" y="1596.7" font-size="25" text-anchor="end">14</text>
<text x="831.5" y="1550" font-size="25" text-anchor="end">16</text>
<text x="831.5" y="1503.2" font-size="25" text-anchor="end">18</text>
<line x1="838.5" y1="1916.2" x2="1170.5" y2="1916.2" stroke="#000" stroke-width="2"/>
<path d="M941.4 1916.2V1922.2M1044.2 1916.2V1922.2M1147 1916.2V1922.2M838.5 1916.2V1919.2M859.1 1916.2V1919.2M879.6 1916.2V1919.2M900.2 1916.2V1919.2M920.8 1916.2V1919.2M941.4 1916.2V1919.2M961.9 1916.2V1919.2M982.5 1916.2V1919.2M1003.1 1916.2V1919.2M1023.6 1916.2V1919.2M1044.2 1916.2V1919.2M1064.8 1916.2V1919.2M1085.3 1916.2V1919.2M1105.9 1916.2V1919.2M1126.5 1916.2V1919.2M1147 1916.2V1919.2M1167.6 1916.2V1919.2" stroke="#000" stroke-width="1.5"/>
<text x="941.4" y="1945.2" font-size="25" text-anchor="middle">0.5</text>
<text x="1044.2" y="1945.2" font-size="25" text-anchor="middle">1</text>
<text x="1147" y="1945.2" font-size="25" text-anchor="middle">1.5</text>
<text x="1094" y="1906" font-size="34" font-style="italic">t</text>
<text x="1106.5" y="1906" font-size="34">,</text>
<text x="1125.5" y="1906" font-size="34">s</text>
<text x="883" y="1488.4" font-size="34" font-style="italic">M</text>
<text x="915.5" y="1488.4" font-size="34">,</text>
<text x="934.5" y="1488.4" font-size="34">N·m</text>
<text x="1019" y="1976" font-size="30" text-anchor="middle">e)</text>
<path d="M1299.5 1747.5L1300.3 1747.4L1301.5 1747.1L1302.9 1746.8L1304.4 1746.6L1305.9 1746.5L1307.4 1746.6L1308.7 1747.2L1309.8 1748.2L1310.6 1749.3L1311.2 1750.2L1311.8 1751.3L1312.2 1752.8L1312.6 1754.9L1313 1758L1313.4 1762.3L1313.9 1768L1314.4 1775.7L1315 1785.3L1315.5 1796.3L1316 1808.2L1316.6 1820.3L1317.2 1832.3L1317.7 1843.6L1318.3 1853.6L1319 1863.1L1319.6 1873.1L1320.3 1883.1L1321 1892.5L1321.6 1900.9L1322.3 1907.8L1322.9 1912.7L1323.5 1915.2L1324 1915.2L1324.4 1913.3L1324.8 1909.6L1325.2 1904.4L1325.6 1897.7L1326 1889.7L1326.4 1880.6L1326.9 1870.7L1327.5 1858L1328.1 1841.6L1328.8 1823.1L1329.5 1803.8L1330.2 1785.3L1330.8 1769.1L1331.5 1756.5L1332 1749.2L1332.5 1747.2L1333 1749.2L1333.4 1754.4L1333.8 1762.1L1334.2 1771.5L1334.6 1781.9L1335 1792.4L1335.4 1802.2L1335.9 1813.5L1336.3 1827.7L1336.7 1843.5L1337.2 1859.4L1337.6 1874.3L1338 1886.6L1338.4 1895L1338.9 1898.1L1339.3 1895.1L1339.7 1887L1340.2 1875L1340.6 1860.5L1341 1844.7L1341.4 1828.9L1341.9 1814.3L1342.3 1802.2L1342.7 1791.3L1343.2 1779.6L1343.6 1767.9L1344.1 1756.8L1344.5 1747L1344.9 1739.1L1345.3 1734L1345.7 1732.1L1346.1 1734.1L1346.4 1739.6L1346.7 1747.9L1347 1758.1L1347.2 1769.4L1347.5 1781L1347.8 1792.3L1348.1 1802.2L1348.4 1812.4L1348.8 1824.2L1349.1 1836.7L1349.4 1849L1349.8 1860.1L1350.1 1869.2L1350.5 1875.3L1350.8 1877.5L1351.2 1875.4L1351.7 1869.6L1352.1 1860.8L1352.5 1850L1353 1838L1353.4 1825.4L1353.8 1813.2L1354.3 1802.2L1354.7 1791.3L1355.2 1779.2L1355.7 1766.5L1356.2 1753.9L1356.7 1741.8L1357.1 1730.9L1357.4 1721.8L1357.7 1715L1357.9 1710.8L1357.9 1708.8L1357.9 1708.6L1357.9 1709.5L1357.8 1711.1L1357.8 1712.9L1357.7 1714.4L1357.7 1715L1358.8 1735.1L1359.8 1786L1360.8 1836.1L1361.8 1855.6L1362.8 1831.9L1363.8 1777.7L1364.8 1723.6L1365.8 1700.2L1366.7 1720L1367.7 1770.3L1368.6 1820.4L1369.5 1840.2L1370.4 1816.5L1371.3 1761.7L1372.2 1706.4L1373.1 1681.9L1374 1701.7L1374.9 1753.2L1375.8 1805.3L1376.6 1826L1377.5 1801.6L1378.3 1745.1L1379.2 1688.1L1380 1663L1380.9 1683.6L1381.7 1737.1L1382.5 1791L1383.3 1812.6L1384.1 1787.5L1385 1729L1385.8 1669.8L1386.6 1643.8L1387.4 1665.3L1388.2 1721L1388.9 1777.2L1389.7 1799.8L1390.5 1773.8L1391.3 1713.1L1392.1 1651.8L1392.8 1624.9L1393.6 1647.4L1394.4 1705.4L1395.1 1763.9L1395.9 1787.2L1396.6 1760.3L1397.4 1698L1398.2 1635.7L1398.9 1608.9L1399.6 1632.1L1400.4 1690.9L1401.1 1749.6L1401.9 1772.9L1402.6 1746L1403.3 1683.8L1404.1 1621.5L1404.8 1594.7L1405.5 1618L1406.3 1676.8L1407 1735.6L1407.7 1758.9L1408.4 1732.1L1409.1 1669.9L1409.8 1607.7L1410.6 1580.9L1411.3 1604.3L1412 1663.1L1412.7 1721.9L1413.4 1745.4L1414.1 1718.8L1414.8 1656.8L1415.5 1594.7L1416.2 1568.1L1416.9 1591.7L1417.6 1650.6L1418.3 1709.6L1419 1733.1L1419.7 1706.5L1420.4 1644.5L1421.1 1582.5L1421.7 1555.9L1422.4 1579.5L1423.1 1638.4L1423.8 1697.4L1424.5 1721L1425.2 1694.4L1425.9 1632.4L1426.5 1570.4L1427.2 1543.9L1427.9 1567.4L1428.6 1626.4L1429.3 1685.4L1429.9 1709L1430.6 1682.5L1431.3 1620.8L1432 1559.3L1432.6 1533.2L1433.3 1556.8L1434 1615.4L1434.7 1673.8L1435.3 1697.1L1436 1671L1436.7 1610L1437.4 1549.3L1438 1523.5L1438.7 1546.8L1439.4 1604.7L1440 1662.3L1440.7 1685.3L1441.4 1659.5L1442 1599.3L1442.7 1539.3L1443.4 1513.8L1444 1536.9L1444.7 1594L1445.4 1650.9L1446 1673.6L1446.7 1648.1L1447.4 1589.1L1448 1530.3L1448.7 1505.5L1449.4 1528.6L1450 1585.4L1450.7 1642L1451.3 1664.7L1452 1639.9L1452.7 1581.7L1453.3 1523.6L1454 1499.1L1454.6 1521.9L1455.3 1578L1456 1633.8L1456.6 1656.3L1457.3 1631.8L1457.9 1574.3L1458.6 1517L1459.3 1492.8L1459.9 1515.3L1460.6 1570.6L1461.2 1625.7L1461.9 1647.9L1462.5 1623.7L1463.2 1566.9L1463.8 1510.4L1464.5 1487.1L1465.2 1509.9L1465.8 1565.1L1466.5 1620.2L1467.1 1642.7L1467.8 1619.4L1468.4 1563.8L1469.1 1508.3L1469.7 1485.1L1470.4 1507.7L1471 1562.5L1471.7 1617.1L1472.3 1639.5L1473 1616.3L1473.6 1561.2L1474.3 1506.1L1474.9 1483.2L1475.6 1505.6L1476.2 1559.9L1476.9 1614L1477.5 1636.3L1478.2 1614L1478.9 1559.7L1479.5 1505.3L1480.2 1482.9L1480.8 1505.7L1481.5 1560.5L1482.1 1615.3L1482.8 1638.2L1483.4 1615.8L1484 1561.3L1484.7 1506.7L1485.3 1484.2L1486 1507.1L1486.6 1562.1L1487.3 1617.2L1487.9 1640.2L1488.6 1617.7L1489.2 1562.9L1489.9 1508.1L1490.5 1485.5L1491.2 1508.5L1491.8 1564.4L1492.5 1620.2L1493.1 1643.8L1493.8 1621.9L1494.4 1567.8L1495.1 1513.8L1495.7 1491.9L1496.4 1515.5L1497 1571.2L1497.7 1626.8L1498.3 1650.3L1499 1628.5L1499.6 1574.6L1500.2 1520.8L1500.9 1499L1501.5 1522.5L1502.2 1578L1502.8 1633.4L1503.5 1656.8L1504.1 1635L1504.8 1581.4L1505.4 1528L1506.1 1506.6L1506.7 1530.2L1507.4 1585.6L1508 1640.8L1508.7 1664.2L1509.3 1642.8L1509.9 1589.8L1510.6 1536.9L1511.2 1515.7L1511.9 1539.1L1512.5 1594L1513.2 1648.7L1513.8 1671.9L1514.5 1650.7L1515.1 1598.2L1515.8 1545.7L1516.4 1524.7L1517.1 1548L1517.7 1602.4L1518.3 1656.7L1519 1679.9L1519.6 1659.1L1520.3 1607L1520.9 1554.8L1521.6 1533.8L1522.2 1557.1L1522.9 1611.9L1523.5 1666.7L1524.2 1690.3L1524.8 1669.3L1525.5 1616.7L1526.1 1564L1526.8 1542.8L1527.4 1566.3L1528 1621.6L1528.7 1676.9L1529.3 1700.6L1530 1679.4L1530.6 1626.4L1531.3 1573.2L1531.9 1551.9L1532.6 1575.6L1533.2 1631.4L1533.9 1687.1L1534.5 1711L1535.2 1689.7L1535.8 1636.5L1536.4 1583.4L1537.1 1562.1L1537.7 1586L1538.4 1641.7L1539 1697.4L1539.7 1721.3L1540.3 1700L1541 1646.9L1541.6 1593.7L1542.3 1572.5L1542.9 1596.3L1543.5 1652L1544.2 1707.8L1544.8 1731.6L1545.5 1710.4L1546.1 1657.2L1546.8 1604.1L1547.4 1582.8L1548.1 1606.6L1548.7 1662.4L1549.4 1718.1L1550 1742.1L1550.7 1720.9L1551.3 1667.5L1551.9 1614L1552.6 1592.5L1553.2 1616.4L1553.9 1672.7L1554.5 1729.2L1555.2 1753.5L1555.8 1732L1556.5 1677.9L1557.1 1623.6L1557.8 1601.8L1558.4 1626L1559.1 1683L1559.7 1740.3L1560.3 1764.8L1561 1743L1561.6 1688.2L1562.3 1633.2L1562.9 1611.1L1563.6 1635.6L1564.2 1693.4L1564.9 1751.3L1565.5 1776.2L1566.2 1754.1L1566.8 1698.6L1567.4 1643L1568.1 1620.7L1568.7 1645.6L1569.4 1704L1570 1762.5L1570.7 1787.6L1571.3 1765.3L1572 1709.4L1572.6 1653.5L1573.3 1631L1573.9 1656.1L1574.6 1714.9L1575.2 1773.7L1575.8 1798.9L1576.5 1776.5L1577.1 1720.3L1577.8 1664L1578.4 1641.4L1579.1 1666.6L1579.7 1725.7L1580.4 1784.9L1581 1810.3L1581.7 1787.7L1582.3 1731.1L1583 1674.5L1583.6 1651.7L1584.2 1676.8L1584.9 1735.8L1585.5 1794.7L1586.2 1819.6L1586.8 1796.5L1587.5 1739.6L1588.1 1682.9L1588.8 1660L1589.4 1684.9L1590.1 1743.5L1590.7 1802.1L1591.3 1826.8L1592 1803.9L1592.6 1747.4L1593.3 1691L1593.9 1668.2L1594.6 1693L1595.2 1751.3L1595.9 1809.5L1596.5 1834.1L1597.2 1811.3L1597.8 1755.1L1598.5 1699.1L1599.1 1676.5L1599.7 1701.1L1600.4 1759L1601 1816.6L1601.7 1840.7L1602.3 1817.7L1603 1761.5L1603.6 1705.4L1604.3 1682.6L1604.9 1706.7L1605.6 1763.8L1606.2 1820.9L1606.9 1844.8L1607.5 1822L1608.1 1766.2L1608.8 1710.5L1609.4 1687.8L1610.1 1711.7L1610.7 1768.5L1611.4 1825.2L1612 1849L1612.7 1826.3L1613.3 1770.8L1614 1715.5L1614.6 1693L1615.2 1716.7L1615.9 1773.1L1616.5 1829.5L1617.2 1853.1L1617.8 1830.5L1618.5 1775.1L1619.1 1719.6L1619.8 1696.8L1620.4 1720.1L1621.1 1775.9L1621.7 1831.8L1622.4 1855.1L1623 1832.2L1623.6 1776.8L1624.3 1721.4L1624.9 1698.5L1625.6 1721.8L1626.2 1777.7L1626.9 1833.5L1627.5 1856.8L1628.2 1833.9L1628.8 1778.2L1629.5 1722.6L1630.1 1699.6L1630.8 1722.5L1631.4 1777.9L1632 1833.1L1632.7 1855.8L1633.3 1832.8L1634 1777.5L1634.6 1722.4L1635.3 1699.6L1635.9 1722.3L1636.6 1777.2L1637.2 1832L1637.9 1854.5L1638.5 1831.7L1639.1 1776.9L1639.8 1722.2L1640.4 1699.6" fill="none" stroke="#7d0a12" stroke-width="2.4"/>
<path d="M1368 1768L1381.6 1716.7L1412.5 1651.6L1429.6 1607.2L1446.7 1559.2L1463.8 1549L1480.9 1530.2L1498 1535.3L1515.1 1562.7L1532.2 1607.2L1549.3 1665.3L1566.5 1713.3L1583.6 1730.4L1600.7 1726.9L1617.8 1733.8L1634.9 1768L1641.7 1774.9" fill="none" stroke="#5a0008" stroke-width="5" opacity="0.35"/>
<text x="1567" y="1906" font-size="34" font-style="italic">t</text>
<text x="1579.5" y="1906" font-size="34">,</text>
<text x="1598.5" y="1906" font-size="34">s</text>
<line x1="1296" y1="1477.8" x2="1641" y2="1477.8" stroke="#000" stroke-width="2"/>
<line x1="1296" y1="1916.2" x2="1296" y2="1477.8" stroke="#000" stroke-width="2"/>
<path d="M1290 1503H1296M1290 1551.9H1296M1290 1600.8H1296M1290 1649.7H1296M1290 1698.6H1296M1290 1747.5H1296M1290 1796.4H1296M1290 1845.3H1296M1290 1894.2H1296M1293 1913.8H1296M1293 1904H1296M1293 1894.2H1296M1293 1884.4H1296M1293 1874.6H1296M1293 1864.9H1296M1293 1855.1H1296M1293 1845.3H1296M1293 1835.5H1296M1293 1825.7H1296M1293 1816H1296M1293 1806.2H1296M1293 1796.4H1296M1293 1786.6H1296M1293 1776.8H1296M1293 1767.1H1296M1293 1757.3H1296M1293 1747.5H1296M1293 1737.7H1296M1293 1727.9H1296M1293 1718.2H1296M1293 1708.4H1296M1293 1698.6H1296M1293 1688.8H1296M1293 1679H1296M1293 1669.3H1296M1293 1659.5H1296M1293 1649.7H1296M1293 1639.9H1296M1293 1630.1H1296M1293 1620.4H1296M1293 1610.6H1296M1293 1600.8H1296M1293 1591H1296M1293 1581.2H1296M1293 1571.5H1296M1293 1561.7H1296M1293 1551.9H1296M1293 1542.1H1296M1293 1532.3H1296M1293 1522.6H1296M1293 1512.8H1296M1293 1503H1296M1293 1493.2H1296M1293 1483.4H1296" stroke="#000" stroke-width="1.5"/>
<text x="1289" y="1511" font-size="25" text-anchor="end">0.005</text>
<text x="1289" y="1559.9" font-size="25" text-anchor="end">0.004</text>
<text x="1289" y="1608.8" font-size="25" text-anchor="end">0.003</text>
<text x="1289" y="1657.7" font-size="25" text-anchor="end">0.002</text>
<text x="1289" y="1706.6" font-size="25" text-anchor="end">0.001</text>
<text x="1289" y="1755.5" font-size="25" text-anchor="end">0</text>
<text x="1289" y="1804.4" font-size="25" text-anchor="end">−0.001</text>
<text x="1289" y="1853.3" font-size="25" text-anchor="end">−0.002</text>
<text x="1289" y="1902.2" font-size="25" text-anchor="end">−0.003</text>
<line x1="1296" y1="1916.2" x2="1641" y2="1916.2" stroke="#000" stroke-width="2"/>
<path d="M1299.5 1916.2V1922.2M1405.1 1916.2V1922.2M1510.7 1916.2V1922.2M1616.3 1916.2V1922.2M1299.5 1916.2V1919.2M1320.6 1916.2V1919.2M1341.7 1916.2V1919.2M1362.9 1916.2V1919.2M1384 1916.2V1919.2M1405.1 1916.2V1919.2M1426.2 1916.2V1919.2M1447.3 1916.2V1919.2M1468.5 1916.2V1919.2M1489.6 1916.2V1919.2M1510.7 1916.2V1919.2M1531.8 1916.2V1919.2M1552.9 1916.2V1919.2M1574.1 1916.2V1919.2M1595.2 1916.2V1919.2M1616.3 1916.2V1919.2M1637.4 1916.2V1919.2" stroke="#000" stroke-width="1.5"/>
<text x="1299.5" y="1945.2" font-size="25" text-anchor="middle">0</text>
<text x="1405.1" y="1945.2" font-size="25" text-anchor="middle">0.5</text>
<text x="1510.7" y="1945.2" font-size="25" text-anchor="middle">1</text>
<text x="1616.3" y="1945.2" font-size="25" text-anchor="middle">1.5</text>
<text x="1306" y="1508.4" font-size="34">φ</text>
<text x="1329.5" y="1513.7" font-size="23">3</text>
<text x="1349" y="1508.4" font-size="34">,</text>
<text x="1368" y="1508.4" font-size="33.5">rad</text>
<text x="1495" y="1977" font-size="30" text-anchor="middle">f)</text>
<g id="left-schematic">
<path d="M761 227.9V155L770 146.2H1187L1196.2 155V227.9Z" fill="#eaeaea" stroke="#111" stroke-width="2.2"/>
<rect x="779.3" y="135" width="20.2" height="11.2" fill="#eaeaea" stroke="#111" stroke-width="1.8"/>
<rect x="1158.5" y="135" width="20.1" height="11.2" fill="#eaeaea" stroke="#111" stroke-width="1.8"/>
<line x1="761" y1="188.5" x2="1196.2" y2="188.5" stroke="#111" stroke-width="3"/>
<path d="M834.8 188.5C860 174 900 166.5 941.7 166.3C990 166.3 1030 169 1046.6 172.4L1050 176" fill="none" stroke="#111" stroke-width="1.6"/>
<path d="M834.8 188.5C850 196 880 199 921.5 198.6C960 198.5 990 197 1002 195.6C1050 193 1110 190 1153.4 187.5" fill="none" stroke="#111" stroke-width="1.6"/>
<path d="M1005 192L1111 178.4L1153.4 187.5" fill="none" stroke="#111" stroke-width="1.6"/>
<path d="M1008.2 189.5L1091 157.3L1133.3 159.3L1099 187.5Z" fill="#eaeaea" stroke="#111" stroke-width="1.6"/>
<path d="M1091 157.3C1100 155 1120 155 1133.3 159.3" fill="none" stroke="#111" stroke-width="1.2"/>
<path d="M1003 176L1020 177" fill="none" stroke="#111" stroke-width="1.2"/>
<circle cx="1079.8" cy="204.7" r="6" fill="#111"/>
<rect x="514.3" y="227.9" width="925.7" height="31.4" fill="#eaeaea" stroke="#111" stroke-width="2.4"/>
<circle cx="545" cy="245.7" r="6" fill="#111"/>
<rect x="599.4" y="260.5" width="31.8" height="16" fill="#eaeaea" stroke="#111" stroke-width="2"/>
<rect x="839.4" y="260.5" width="29.1" height="16" fill="#eaeaea" stroke="#111" stroke-width="2"/>
<rect x="1098.3" y="260.5" width="31.2" height="16" fill="#eaeaea" stroke="#111" stroke-width="2"/>
<rect x="1337.5" y="260.5" width="31.2" height="16" fill="#eaeaea" stroke="#111" stroke-width="2"/>
<rect x="598.5" y="277.4" width="270.9" height="3.8" fill="#fafafa" stroke="#111" stroke-width="1.8"/>
<rect x="1096.4" y="277.4" width="272.3" height="3.8" fill="#fafafa" stroke="#111" stroke-width="1.8"/>
<rect x="600" y="282" width="8.5" height="5" fill="#ddd" stroke="#111" stroke-width="1.6"/>
<rect x="619" y="282" width="8.5" height="5" fill="#ddd" stroke="#111" stroke-width="1.6"/>
<rect x="842" y="282" width="8.5" height="5" fill="#ddd" stroke="#111" stroke-width="1.6"/>
<rect x="860" y="282" width="8.5" height="5" fill="#ddd" stroke="#111" stroke-width="1.6"/>
<rect x="1100" y="282" width="8.5" height="5" fill="#ddd" stroke="#111" stroke-width="1.6"/>
<rect x="1118" y="282" width="8.5" height="5" fill="#ddd" stroke="#111" stroke-width="1.6"/>
<rect x="1340" y="282" width="8.5" height="5" fill="#ddd" stroke="#111" stroke-width="1.6"/>
<rect x="1359" y="282" width="8.5" height="5" fill="#ddd" stroke="#111" stroke-width="1.6"/>
<rect x="716.8" y="282" width="30" height="15.6" fill="#eaeaea" stroke="#111" stroke-width="2"/>
<rect x="717.8" y="272" width="7" height="4.5" fill="#eaeaea" stroke="#111" stroke-width="1.5"/>
<rect x="736.3" y="272" width="8" height="4.5" fill="#eaeaea" stroke="#111" stroke-width="1.5"/>
<rect x="1215.5" y="282" width="30" height="15.6" fill="#eaeaea" stroke="#111" stroke-width="2"/>
<rect x="1216.5" y="272" width="7" height="4.5" fill="#eaeaea" stroke="#111" stroke-width="1.5"/>
<rect x="1235" y="272" width="8" height="4.5" fill="#eaeaea" stroke="#111" stroke-width="1.5"/>
<path d="M613.5 298.6H1370Q1373.6 298.6 1373.6 302V306Q1373.6 309.6 1370 309.6H613.5" fill="#efefef" stroke="#111" stroke-width="2"/>
<line x1="613.5" y1="311.6" x2="1270" y2="311.6" stroke="#444" stroke-width="1.6"/>
<path d="M603 297Q599 303 603 309" fill="none" stroke="#111" stroke-width="1.5"/>
<circle cx="607.4" cy="280" r="6" fill="#111"/>
<circle cx="622.4" cy="303" r="3.8" fill="#111"/>
<path d="M682 311.8H716L714 318V350.6H690V318Z" fill="#2a2a2a" stroke="#111" stroke-width="1"/>
<line x1="690" y1="318" x2="714" y2="320" stroke="#888" stroke-width="1"/>
<line x1="690" y1="323" x2="714" y2="325" stroke="#888" stroke-width="1"/>
<line x1="690" y1="328" x2="714" y2="330" stroke="#888" stroke-width="1"/>
<line x1="690" y1="333" x2="714" y2="335" stroke="#888" stroke-width="1"/>
<line x1="690" y1="338" x2="714" y2="340" stroke="#888" stroke-width="1"/>
<line x1="690" y1="343" x2="714" y2="345" stroke="#888" stroke-width="1"/>
<line x1="690" y1="348" x2="714" y2="350" stroke="#888" stroke-width="1"/>
<rect x="659.4" y="351.5" width="77.7" height="7.9" fill="#222" stroke="#111" stroke-width="1"/>
<path d="M660.3 360.3L660.3 360.3M664.6 364L668.3 360.3M672.6 364L676.3 360.3M680.6 364L684.3 360.3M688.6 364L692.3 360.3M696.6 364L700.3 360.3M704.6 364L708.3 360.3M712.6 364L716.3 360.3M720.6 364L724.3 360.3M728.6 364L732.3 360.3M736.6 364L737 363.6" stroke="#111" stroke-width="2" fill="none" stroke-dasharray="5 3"/>
<path d="M681 364L681 364M681 372L689 364M681 380L697 364M681 388L705 364M681 396L713 364M687 398L721 364M695 398L729 364M703 398L737 364M711 398L737 372M719 398L737 380M727 398L737 388M735 398L737 396" stroke="#111" stroke-width="2.2" fill="none" stroke-dasharray="7 3"/>
<circle cx="707.9" cy="340.9" r="7" fill="#111"/>
<rect x="887.9" y="313.5" width="31.8" height="128" rx="2" fill="#eaeaea" stroke="#111" stroke-width="2.2"/>
<path d="M888.9 337L888.9 337M888.9 344L895.9 337M888.9 351L902.9 337M888.9 358L909.9 337M888.9 365L916.9 337M888.9 372L918.7 342.2M888.9 379L918.7 349.2M895.9 379L918.7 356.2M902.9 379L918.7 363.2M909.9 379L918.7 370.2M916.9 379L918.7 377.2" stroke="#222" stroke-width="1.1" fill="none"/>
<path d="M888.9 417L888.9 417M888.9 424L895.9 417M888.9 431L902.9 417M888.9 438L909.9 417M893.9 440L916.9 417M900.9 440L918.7 422.2M907.9 440L918.7 429.2M914.9 440L918.7 436.2" stroke="#222" stroke-width="1.1" fill="none"/>
<rect x="1052" y="313.5" width="33.1" height="128" rx="2" fill="#eaeaea" stroke="#111" stroke-width="2.2"/>
<path d="M1053 337L1053 337M1053 344L1060 337M1053 351L1067 337M1053 358L1074 337M1053 365L1081 337M1053 372L1084.1 340.9M1053 379L1084.1 347.9M1060 379L1084.1 354.9M1067 379L1084.1 361.9M1074 379L1084.1 368.9M1081 379L1084.1 375.9" stroke="#222" stroke-width="1.1" fill="none"/>
<path d="M1053 417L1053 417M1053 424L1060 417M1053 431L1067 417M1053 438L1074 417M1058 440L1081 417M1065 440L1084.1 420.9M1072 440L1084.1 427.9M1079 440L1084.1 434.9" stroke="#222" stroke-width="1.1" fill="none"/>
<rect x="850.9" y="385" width="23.8" height="24.7" fill="#eaeaea" stroke="#111" stroke-width="2.2"/>
<rect x="876.5" y="381.5" width="63.5" height="34.1" fill="#eaeaea" stroke="#111" stroke-width="2.2"/>
<rect x="1033" y="380.5" width="63.4" height="35.9" fill="#eaeaea" stroke="#111" stroke-width="2.2"/>
<line x1="887.9" y1="380.5" x2="919.7" y2="380.5" stroke="#111" stroke-width="2.4"/>
<line x1="887.9" y1="416" x2="919.7" y2="416" stroke="#111" stroke-width="2.4"/>
<line x1="1052" y1="380.5" x2="1085.1" y2="380.5" stroke="#111" stroke-width="2.4"/>
<line x1="1052" y1="416.4" x2="1085.1" y2="416.4" stroke="#111" stroke-width="2.4"/>
<line x1="840" y1="398.2" x2="1180" y2="398.2" stroke="#555" stroke-width="1" stroke-dasharray="14 4 3 4"/>
<line x1="840" y1="410.6" x2="1000" y2="410.6" stroke="#555" stroke-width="1" stroke-dasharray="14 4 3 4"/>
<circle cx="865.9" cy="403.5" r="3.8" fill="#111"/>
<rect x="940" y="352.4" width="93" height="366.9" fill="#eaeaea" stroke="#111" stroke-width="2.2"/>
<path d="M941 353.5L941 353.5M941 362.5L950 353.5M941 371.5L959 353.5M948.5 373L968 353.5M957.5 373L977 353.5M966.5 373L986 353.5M975.5 373L995 353.5M984.5 373L1004 353.5M993.5 373L1013 353.5M1002.5 373L1022 353.5M1011.5 373L1031 353.5M1020.5 373L1032 361.5M1029.5 373L1032 370.5" stroke="#222" stroke-width="1.1" fill="none"/>
<rect x="942" y="373" width="89" height="76" fill="#eee" stroke="#111" stroke-width="2"/>
<line x1="985.7" y1="373" x2="985.7" y2="449" stroke="#111" stroke-width="4"/>
<path d="M941 450L941 450M941 459L950 450M941 468L959 450M941 477L968 450M941 486L977 450M941 495L986 450M941 504L995 450M941 513L1004 450M941 522L1013 450M942 530L1022 450M951 530L1031 450M960 530L1032 458M969 530L1032 467M978 530L1032 476M987 530L1032 485M996 530L1032 494M1005 530L1032 503M1014 530L1032 512M1023 530L1032 521" stroke="#222" stroke-width="1.1" fill="none"/>
<path d="M941 515C960 505 975 505 990 512C1005 520 1020 530 1032 528" fill="#e9e9e9" stroke="#999" stroke-width="0.8"/>
<path d="M941 518L1032 531L1032 560L941 560Z" fill="#eaeaea" stroke="#111" stroke-width="0"/>
<path d="M925 581C945 572 965 574 985 583C1005 591 1025 588 1045 581V623C1025 631 1005 631 985 624C965 617 945 617 925 623Z" fill="#fff" stroke="#111" stroke-width="0"/>
<path d="M925 581C945 572 965 574 985 583C1005 591 1025 588 1045 581" fill="none" stroke="#bbb" stroke-width="1"/>
<path d="M925 623C945 617 965 617 985 624C1005 631 1025 631 1045 623" fill="none" stroke="#bbb" stroke-width="1"/>
<line x1="940" y1="674.3" x2="1033" y2="674.3" stroke="#111" stroke-width="2"/>
<circle cx="957" cy="535" r="3.8" fill="#111"/>
<rect x="1096.4" y="379.5" width="11.4" height="38.5" rx="2" fill="#eaeaea" stroke="#111" stroke-width="2"/>
<rect x="1106.8" y="365.3" width="8.5" height="64.3" rx="2" fill="#eaeaea" stroke="#111" stroke-width="2"/>
<rect x="1115.3" y="352.1" width="36" height="104.9" rx="16" fill="#eaeaea" stroke="#111" stroke-width="2.4"/>
<path d="M1121 430V392Q1121 385 1133 385Q1146 385 1146 392V430Q1146 450 1133 450Q1121 450 1121 430Z" fill="#ddd" stroke="#111" stroke-width="3"/>
<path d="M1126 395H1141M1126 412H1141" fill="none" stroke="#333" stroke-width="5"/>
<rect x="1151.3" y="370" width="8.5" height="57" rx="2" fill="#eaeaea" stroke="#111" stroke-width="2"/>
<rect x="1159.8" y="382" width="9.4" height="32" rx="2" fill="#eaeaea" stroke="#111" stroke-width="2"/>
<circle cx="1134.2" cy="368.2" r="4.5" fill="#111"/>
<path d="M1174 398Q1174 350 1184 344L1196.6 342V450.4H1184Q1174 440 1174 398Z" fill="#ddd" stroke="#111" stroke-width="2.4"/>
<rect x="1196.6" y="342" width="105.9" height="108.4" fill="#eee" stroke="#111" stroke-width="2.4"/>
<rect x="1199" y="358.5" width="39" height="5" fill="#222" stroke="#111" stroke-width="0"/>
<rect x="1199" y="368.5" width="39" height="5" fill="#222" stroke="#111" stroke-width="0"/>
<rect x="1199" y="377.5" width="39" height="5" fill="#222" stroke="#111" stroke-width="0"/>
<rect x="1239.2" y="352.1" width="66.2" height="7.6" fill="#222" stroke="#111" stroke-width="0"/>
<path d="M1239.2 360.6L1239.2 360.6M1239.2 368.6L1247.2 360.6M1239.2 376.6L1255.2 360.6M1239.2 384.6L1263.2 360.6M1242.8 389L1271.2 360.6M1250.8 389L1279.2 360.6M1258.8 389L1287.2 360.6M1266.8 389L1295.2 360.6M1274.8 389L1303.2 360.6M1282.8 389L1305 366.8M1290.8 389L1305 374.8M1298.8 389L1305 382.8" stroke="#222" stroke-width="2" fill="none"/>
<rect x="1199" y="390" width="101" height="8" fill="#222" stroke="#111" stroke-width="0"/>
<rect x="1212" y="393" width="78" height="4" fill="#ddd" stroke="#111" stroke-width="0"/>
<rect x="1199" y="402" width="101" height="4" fill="#222" stroke="#111" stroke-width="0"/>
<rect x="1199" y="411" width="101" height="4" fill="#222" stroke="#111" stroke-width="0"/>
<rect x="1199" y="419" width="101" height="4" fill="#222" stroke="#111" stroke-width="0"/>
<path d="M1222 450V430H1274V450" fill="#eee" stroke="#111" stroke-width="3"/>
<path d="M1302.5 341C1330 341 1345 348 1353.6 362V440Q1345 448 1336 450.4H1302.5Z" fill="#eaeaea" stroke="#111" stroke-width="2.2"/>
<line x1="1314.5" y1="345" x2="1314.5" y2="448" stroke="#666" stroke-width="1.2" stroke-dasharray="8 5"/>
<rect x="1169.2" y="451.4" width="206.1" height="7.6" fill="#222" stroke="#111" stroke-width="0"/>
<rect x="1216.5" y="319" width="46.3" height="19" rx="3" fill="#eaeaea" stroke="#111" stroke-width="2"/>
<path d="M1258 311.8H1290L1287.4 318V350H1262V318Z" fill="#2a2a2a" stroke="#111" stroke-width="1"/>
<rect x="1212" y="338" width="50" height="4" fill="#222" stroke="#111" stroke-width="0"/>
<circle cx="1326.2" cy="408.8" r="4" fill="#111"/>
<circle cx="1306" cy="398" r="4" fill="#111"/>
<line x1="795.3" y1="341.8" x2="795.3" y2="464.4" stroke="#111" stroke-width="1.5"/>
<path d="M792 380L795.3 397.4L798.6 380Z" fill="#111" stroke="#111" stroke-width="1"/>
<path d="M792 428L795.3 410.6L798.6 428Z" fill="#111" stroke="#111" stroke-width="1"/>
<line x1="790" y1="397.4" x2="836" y2="397.4" stroke="#111" stroke-width="1.6"/>
<line x1="790" y1="410.6" x2="848" y2="410.6" stroke="#111" stroke-width="1.6"/>
<text x="783" y="359" font-size="26" text-anchor="middle">ε</text>
<text x="494" y="402" font-size="30" text-anchor="middle">1</text>
<line x1="470.6" y1="411.6" x2="527.1" y2="411.6" stroke="#111" stroke-width="1.8"/>
<line x1="527.1" y1="411.6" x2="545" y2="245.7" stroke="#111" stroke-width="1.6"/>
<text x="574.3" y="400" font-size="30" text-anchor="middle">2</text>
<line x1="550.7" y1="409.6" x2="604.3" y2="409.6" stroke="#111" stroke-width="1.8"/>
<line x1="604.3" y1="409.6" x2="607.4" y2="280" stroke="#111" stroke-width="1.6"/>
<text x="653.5" y="404" font-size="30" text-anchor="middle">3</text>
<line x1="629.4" y1="415.9" x2="684.1" y2="415.9" stroke="#111" stroke-width="1.8"/>
<line x1="629.4" y1="415.9" x2="622.4" y2="303" stroke="#111" stroke-width="1.6"/>
<text x="655.5" y="508" font-size="30" text-anchor="middle">4</text>
<line x1="630" y1="517.9" x2="685.7" y2="517.9" stroke="#111" stroke-width="1.8"/>
<line x1="685.7" y1="517.9" x2="707.9" y2="340.9" stroke="#111" stroke-width="1.6"/>
<text x="657" y="599" font-size="30" text-anchor="middle">5</text>
<line x1="630" y1="607.9" x2="683.6" y2="607.9" stroke="#111" stroke-width="1.8"/>
<line x1="683.6" y1="607.9" x2="865.9" y2="403.5" stroke="#111" stroke-width="1.6"/>
<text x="655.5" y="697" font-size="30" text-anchor="middle">6</text>
<line x1="630" y1="706.4" x2="684.9" y2="706.4" stroke="#111" stroke-width="1.8"/>
<line x1="684.9" y1="706.4" x2="957" y2="535" stroke="#111" stroke-width="1.6"/>
<text x="1077.5" y="697" font-size="30" text-anchor="middle">9</text>
<line x1="1047.9" y1="705.6" x2="1103.6" y2="705.6" stroke="#111" stroke-width="1.8"/>
<line x1="1047.9" y1="705.6" x2="1079.8" y2="204.7" stroke="#111" stroke-width="1.6"/>
<text x="1142" y="697" font-size="30" text-anchor="middle">7</text>
<line x1="1114.3" y1="705.6" x2="1170" y2="705.6" stroke="#111" stroke-width="1.8"/>
<line x1="1114.3" y1="705.6" x2="1134.2" y2="368.2" stroke="#111" stroke-width="1.6"/>
<text x="1221.5" y="697" font-size="30" text-anchor="middle">8</text>
<line x1="1204.3" y1="705.6" x2="1260" y2="705.6" stroke="#111" stroke-width="1.8"/>
<line x1="1260" y1="705.6" x2="1326.2" y2="408.8" stroke="#111" stroke-width="1.6"/>
</g>
<defs><pattern id="hp" width="4" height="4" patternUnits="userSpaceOnUse" patternTransform="rotate(45)"><rect width="4" height="4" fill="#d8d8d8"/><line x1="0" y1="0" x2="0" y2="4" stroke="#444" stroke-width="1.6"/></pattern></defs>
<g id="right-diagram">
<path d="M2448.6 345L2448.6 244L2452 240" fill="none" stroke="#9c9c9c" stroke-width="3.5"/>
<path d="M2449 244L2451 238L2455 238L2455 231L2467 229L2469 236" fill="none" stroke="#9c9c9c" stroke-width="3"/>
<path d="M2502 233L2503 226L2516 224L2518 231" fill="none" stroke="#9c9c9c" stroke-width="3"/>
<path d="M2449 242L2525 232L2536 338" fill="none" stroke="#9c9c9c" stroke-width="3.5"/>
<path d="M2452 259L2532 250" fill="none" stroke="#9c9c9c" stroke-width="3"/>
<path d="M2454 297L2532 291" fill="none" stroke="#9c9c9c" stroke-width="3"/>
<path d="M2531 265L2801 248" fill="none" stroke="#9c9c9c" stroke-width="3.5"/>
<path d="M2531 293L2806 268" fill="none" stroke="#9c9c9c" stroke-width="3.5"/>
<path d="M2537 305L2806 275" fill="none" stroke="#9c9c9c" stroke-width="3.5"/>
<path d="M2837 247.5L3095 230.6L3188 193.6" fill="none" stroke="#9c9c9c" stroke-width="3.5"/>
<path d="M2838.5 266L3099 239.5L3189.7 198.7" fill="none" stroke="#9c9c9c" stroke-width="5"/>
<rect x="2014.2" y="371" width="1117.5" height="81.7" fill="#f2f2f2" stroke="#777" stroke-width="1.2"/>
<rect x="2163.6" y="549.8" width="889.4" height="69.7" fill="#f2f2f2" stroke="#777" stroke-width="1.2"/>
<path d="M2537.9 1275V845A40.8 40.8 0 0 1 2619.5 845V1275" fill="#f2f2f2" stroke="#777" stroke-width="1.2"/>
<rect x="2301.6" y="1275" width="553.5" height="72" fill="#f0f0f0" stroke="#666" stroke-width="1.6"/>
<rect x="2139" y="463.5" width="62" height="13" rx="6.5" fill="none" stroke="#9a9a9a" stroke-width="1.4" transform="rotate(-4 2170 470)"/>
<rect x="2139.7" y="486.8" width="62" height="13" rx="6.5" fill="none" stroke="#9a9a9a" stroke-width="1.4" transform="rotate(-4 2170.7 493.3)"/>
<rect x="2140.3" y="510.2" width="62" height="13" rx="6.5" fill="none" stroke="#9a9a9a" stroke-width="1.4" transform="rotate(-4 2171.3 516.7)"/>
<rect x="2141" y="533.5" width="62" height="13" rx="6.5" fill="none" stroke="#9a9a9a" stroke-width="1.4" transform="rotate(-4 2172 540)"/>
<path d="M2143.4 475.8L2197.3 487.6M2196.6 472L2144.1 491.3M2144.1 499.1L2197.9 510.9M2197.3 495.4L2144.7 514.6M2144.7 522.4L2198.6 534.2M2197.9 518.7L2145.4 538" fill="none" stroke="#9a9a9a" stroke-width="1.4"/>
<rect x="2960" y="456" width="72" height="12" rx="6" fill="none" stroke="#9a9a9a" stroke-width="1.4" transform="rotate(-4 2996 462)"/>
<rect x="2960.5" y="473.5" width="72" height="12" rx="6" fill="none" stroke="#9a9a9a" stroke-width="1.4" transform="rotate(-4 2996.5 479.5)"/>
<rect x="2961" y="491" width="72" height="12" rx="6" fill="none" stroke="#9a9a9a" stroke-width="1.4" transform="rotate(-4 2997 497)"/>
<rect x="2961.5" y="508.5" width="72" height="12" rx="6" fill="none" stroke="#9a9a9a" stroke-width="1.4" transform="rotate(-4 2997.5 514.5)"/>
<rect x="2962" y="526" width="72" height="12" rx="6" fill="none" stroke="#9a9a9a" stroke-width="1.4" transform="rotate(-4 2998 532)"/>
<path d="M2964.1 467.8L3028.4 473.7M3027.9 463.4L2964.6 478.1M2964.6 485.3L3028.9 491.2M3028.4 480.9L2965.1 495.6M2965.1 502.8L3029.4 508.7M3028.9 498.4L2965.6 513.1M2965.6 520.3L3029.9 526.2M3029.4 515.9L2966.1 530.6" fill="none" stroke="#9a9a9a" stroke-width="1.4"/>
<path d="M1939.8 400.8L3051.1 287.6L3056.9 370.3L1948.5 482Z" fill="#eaeaea" stroke="#111" stroke-width="3.2"/>
<path d="M1989.6 262L1989.6 262M1989.6 267L1994.6 262M1989.6 272L1999.6 262M1989.6 277L2004.6 262M1989.6 282L2009.6 262M1989.6 287L2014.6 262M1989.6 292L2019.6 262M1994.6 292L2024.6 262M1999.6 292L2029.6 262M2004.6 292L2034.6 262M2009.6 292L2039.6 262M2014.6 292L2044.6 262M2019.6 292L2049.6 262M2024.6 292L2054.6 262M2029.6 292L2059.6 262M2034.6 292L2064.6 262M2039.6 292L2069.6 262M2044.6 292L2074.6 262M2049.6 292L2079.6 262M2054.6 292L2084.6 262M2059.6 292L2089.6 262M2064.6 292L2091 265.6M2069.6 292L2091 270.6M2074.6 292L2091 275.6M2079.6 292L2091 280.6M2084.6 292L2091 285.6M2089.6 292L2091 290.6" stroke="#333" stroke-width="1.4" fill="none"/>
<path d="M1994 294.7L2092.4 283.4" fill="none" stroke="#111" stroke-width="4"/>
<path d="M2040.7 290.3L2047 348.3" fill="none" stroke="#111" stroke-width="3"/>
<path d="M2036.3 349.5L2056.4 347" fill="none" stroke="#111" stroke-width="3"/>
<path d="M2021.8 301.7L2030 367.2L2066.5 364L2059 297.3" fill="none" stroke="#111" stroke-width="3"/>
<path d="M2048.2 367.9L2052 389.3" fill="none" stroke="#111" stroke-width="2.5"/>
<path d="M2608 656L2705 646L2705 762L2612 762Z" fill="#eeeeee" stroke="#111" stroke-width="0"/>
<path d="M2051.7 640L2994.9 549.8L3000 616.9L2606.9 655.6L2612.6 755C2610 800 2578 822 2537 822C2495 822 2464 800 2459.9 765L2449.9 671.3L2056 709.2Z" fill="#eaeaea" stroke="#111" stroke-width="3.2"/>
<path d="M2622 760C2620 810 2580 832 2535 832C2525 832 2515 830 2508 828" fill="none" stroke="#111" stroke-width="2.6"/>
<path d="M2620.5 711A40 40 0 0 1 2700.5 711L2666.3 1138.8L2901 1158.2L2895.5 1229.8L2343.6 1184L2350 1111.4L2585.6 1130.8L2614 750.8Z" fill="#eaeaea" stroke="#111" stroke-width="3.2"/>
<circle cx="2579.2" cy="716.7" r="23.4" fill="none" stroke="#999" stroke-width="2"/>
<circle cx="2579.2" cy="844.5" r="23.4" fill="none" stroke="#999" stroke-width="2"/>
<circle cx="2538" cy="762.2" r="40" fill="url(#hp)"/>
<circle cx="2660.5" cy="711" r="41" fill="url(#hp)"/>
<path d="M2620.5 711A40 40 0 0 1 2700.5 711" fill="none" stroke="#111" stroke-width="3.2"/>
<path d="M2549.4 738L2637.4 703.9L2647.4 733.8L2560.7 769.3Z" fill="#e8e8e8" stroke="#111" stroke-width="0"/>
<path d="M2549.4 738L2637.4 703.9" fill="none" stroke="#111" stroke-width="3.2"/>
<path d="M2560.7 769.3L2647.4 733.8" fill="none" stroke="#111" stroke-width="3.2"/>
<circle cx="2538" cy="762.2" r="21.5" fill="#ececec" stroke="#111" stroke-width="5"/>
<circle cx="2660.5" cy="711" r="21.5" fill="#ececec" stroke="#111" stroke-width="5"/>
<path d="M2538 762.2L2556.2 767.8M2660.5 711L2677.2 720.1M2538 762.2L2546.9 779M2660.5 711L2665.8 729.2M2538 762.2L2532.4 780.4M2660.5 711L2651.4 727.7M2538 762.2L2521.2 771.1M2660.5 711L2642.3 716.3M2538 762.2L2519.8 756.6M2660.5 711L2643.8 701.9M2538 762.2L2529.1 745.4M2660.5 711L2655.2 692.8M2538 762.2L2543.6 744M2660.5 711L2669.6 694.3M2538 762.2L2554.8 753.3M2660.5 711L2678.7 705.7" fill="none" stroke="#333" stroke-width="1"/>
<circle cx="2538" cy="762.2" r="5" fill="#111"/>
<rect x="2058.2" y="470.3" width="81" height="15" rx="7.5" fill="#d9d9d9" stroke="#111" stroke-width="2.2"/>
<rect x="2061.1" y="499.1" width="81" height="15" rx="7.5" fill="#d9d9d9" stroke="#111" stroke-width="2.2"/>
<rect x="2063.9" y="527.9" width="81" height="15" rx="7.5" fill="#d9d9d9" stroke="#111" stroke-width="2.2"/>
<rect x="2066.8" y="556.6" width="81" height="15" rx="7.5" fill="#d9d9d9" stroke="#111" stroke-width="2.2"/>
<rect x="2069.6" y="585.4" width="81" height="15" rx="7.5" fill="#d9d9d9" stroke="#111" stroke-width="2.2"/>
<rect x="2072.5" y="614.2" width="81" height="15" rx="7.5" fill="#d9d9d9" stroke="#111" stroke-width="2.2"/>
<path d="M2065.1 500.6Q2102.9 503.9 2135.2 483.8Q2097.3 480.5 2065.1 500.6Z" fill="#d9d9d9" stroke="#111" stroke-width="2.2"/>
<path d="M2067.9 529.4Q2105.8 532.6 2138.1 512.6Q2100.2 509.3 2067.9 529.4Z" fill="#d9d9d9" stroke="#111" stroke-width="2.2"/>
<path d="M2070.8 558.1Q2108.6 561.4 2140.9 541.4Q2103.1 538.1 2070.8 558.1Z" fill="#d9d9d9" stroke="#111" stroke-width="2.2"/>
<path d="M2073.6 586.9Q2111.5 590.2 2143.8 570.1Q2105.9 566.9 2073.6 586.9Z" fill="#d9d9d9" stroke="#111" stroke-width="2.2"/>
<path d="M2076.5 615.7Q2114.4 619 2146.6 598.9Q2108.8 595.6 2076.5 615.7Z" fill="#d9d9d9" stroke="#111" stroke-width="2.2"/>
<rect x="2870.3" y="390.3" width="82" height="15" rx="7.5" fill="#d9d9d9" stroke="#111" stroke-width="2.2"/>
<rect x="2873.1" y="418.9" width="82" height="15" rx="7.5" fill="#d9d9d9" stroke="#111" stroke-width="2.2"/>
<rect x="2876" y="447.6" width="82" height="15" rx="7.5" fill="#d9d9d9" stroke="#111" stroke-width="2.2"/>
<rect x="2878.8" y="476.2" width="82" height="15" rx="7.5" fill="#d9d9d9" stroke="#111" stroke-width="2.2"/>
<rect x="2881.7" y="504.9" width="82" height="15" rx="7.5" fill="#d9d9d9" stroke="#111" stroke-width="2.2"/>
<rect x="2884.5" y="533.5" width="82" height="15" rx="7.5" fill="#d9d9d9" stroke="#111" stroke-width="2.2"/>
<path d="M2877.1 420.4Q2915.5 423.8 2948.3 403.8Q2910 400.4 2877.1 420.4Z" fill="#d9d9d9" stroke="#111" stroke-width="2.2"/>
<path d="M2880 449.1Q2918.3 452.4 2951.1 432.4Q2912.8 429.1 2880 449.1Z" fill="#d9d9d9" stroke="#111" stroke-width="2.2"/>
<path d="M2882.8 477.7Q2921.1 481.1 2954 461.1Q2915.7 457.7 2882.8 477.7Z" fill="#d9d9d9" stroke="#111" stroke-width="2.2"/>
<path d="M2885.7 506.4Q2924 509.7 2956.8 489.7Q2918.5 486.4 2885.7 506.4Z" fill="#d9d9d9" stroke="#111" stroke-width="2.2"/>
<path d="M2888.5 535Q2926.8 538.4 2959.7 518.4Q2921.3 515 2888.5 535Z" fill="#d9d9d9" stroke="#111" stroke-width="2.2"/>
<path d="M1947.1 482.3L1957.5 584.1" fill="none" stroke="#111" stroke-width="3.2"/>
<path d="M1948.3 586.5L1968.6 583.5" fill="none" stroke="#111" stroke-width="3.2"/>
<path d="M1936 541.8L1943.4 620.3L1979.6 613L1972.2 538.7" fill="none" stroke="#111" stroke-width="3.2"/>
<path d="M1964.3 618.5L1967.3 650.4L2051.7 640" fill="none" stroke="#111" stroke-width="3.2"/>
<path d="M1992.5 494.5L2005.4 619.1" fill="none" stroke="#111" stroke-width="3.2"/>
<path d="M2007.2 504.4L2020.1 640.6" fill="none" stroke="#111" stroke-width="3.2"/>
<path d="M2018.3 482.3L2030.5 616.6" fill="none" stroke="#111" stroke-width="3.2"/>
<path d="M1974.1 481.7L1992.5 479.8L1991.9 495.8Z" fill="#111" stroke="#111" stroke-width="1"/>
<path d="M2015.8 478.6L2030.5 477.4L2020.1 492.1Z" fill="#111" stroke="#111" stroke-width="1"/>
<path d="M2020.1 625.8L2036 640.6L2020.1 641.8Z" fill="#111" stroke="#111" stroke-width="1"/>
<path d="M3059.4 371L3067.8 472.3" fill="none" stroke="#111" stroke-width="3.2"/>
<path d="M3058.8 473.6L3079.4 470.4" fill="none" stroke="#111" stroke-width="3.2"/>
<path d="M3046.5 429.1L3054.9 507.2L3091 499.4L3082.6 425.8" fill="none" stroke="#111" stroke-width="3.2"/>
<path d="M3073.6 504.6L3076.8 537.5L2994.9 549.8" fill="none" stroke="#111" stroke-width="3.2"/>
<path d="M2994.2 385.8L3007.8 516.8" fill="none" stroke="#111" stroke-width="3.2"/>
<path d="M3009 401.3L3021.3 540.7" fill="none" stroke="#111" stroke-width="3.2"/>
<path d="M3019.4 376.8L3032.9 513.6" fill="none" stroke="#111" stroke-width="3.2"/>
<path d="M2978.1 378.1L2994.2 376.1L2994.2 389.7Z" fill="#111" stroke="#111" stroke-width="1"/>
<path d="M3018.1 373.6L3032.3 372.9L3020.7 387.1Z" fill="#111" stroke="#111" stroke-width="1"/>
<path d="M3011.6 540.7L3021.3 525.2L3024.5 540.7Z" fill="#111" stroke="#111" stroke-width="1"/>
<rect x="2178" y="631" width="93" height="14" rx="7" fill="none" stroke="#777" stroke-width="1.4" stroke-dasharray="7 3" transform="rotate(-4 2224 638)"/>
<rect x="2178" y="645.5" width="93" height="14" rx="7" fill="none" stroke="#777" stroke-width="1.4" stroke-dasharray="7 3" transform="rotate(-4 2224 652.5)"/>
<rect x="2178" y="698" width="93" height="14" rx="7" fill="none" stroke="#777" stroke-width="1.4" stroke-dasharray="7 3" transform="rotate(-4 2224 705)"/>
<rect x="2178" y="712" width="93" height="14" rx="7" fill="none" stroke="#777" stroke-width="1.4" stroke-dasharray="7 3" transform="rotate(-4 2224 719)"/>
<rect x="2178" y="722" width="93" height="14" rx="7" fill="none" stroke="#777" stroke-width="1.4" stroke-dasharray="7 3" transform="rotate(-4 2224 729)"/>
<line x1="2186" y1="622" x2="2186" y2="731" stroke="#111" stroke-width="1.1" stroke-dasharray="7 3"/>
<line x1="2224.4" y1="620" x2="2224.4" y2="731" stroke="#111" stroke-width="1.1" stroke-dasharray="7 3"/>
<line x1="2263.6" y1="618" x2="2263.6" y2="731" stroke="#111" stroke-width="1.3"/>
<path d="M2172 696L2180 688L2232 684L2234 702L2180 706Z" fill="#111" stroke="#111" stroke-width="0"/>
<path d="M2182.0 684L2182.0 708M2186.2 684L2186.2 708M2190.4 684L2190.4 708M2194.6 684L2194.6 708M2198.8 684L2198.8 708M2203.0 684L2203.0 708M2207.2 684L2207.2 708M2211.4 684L2211.4 708M2215.6 684L2215.6 708M2219.8 684L2219.8 708M2224.0 684L2224.0 708M2228.2 684L2228.2 708" fill="none" stroke="#555" stroke-width="1.2"/>
<rect x="2216" y="688" width="18.7" height="42.5" fill="#111" stroke="#111" stroke-width="0"/>
<path d="M2216 692H2235M2216 696H2235M2216 700H2235M2216 704H2235M2216 708H2235M2216 712H2235M2216 716H2235M2216 720H2235M2216 724H2235M2216 728H2235" fill="none" stroke="#444" stroke-width="1"/>
<path d="M2178 731.7L2178 731.7M2178 740.7L2187 731.7M2178 749.7L2196 731.7M2178 758.7L2205 731.7M2183 762.7L2214 731.7M2192 762.7L2223 731.7M2201 762.7L2232 731.7M2210 762.7L2241 731.7M2219 762.7L2250 731.7M2228 762.7L2259 731.7M2237 762.7L2268 731.7M2246 762.7L2271 737.7M2255 762.7L2271 746.7M2264 762.7L2271 755.7" stroke="#222" stroke-width="2" fill="none" stroke-dasharray="6 3"/>
<line x1="2178" y1="731.7" x2="2271" y2="731.7" stroke="#111" stroke-width="2"/>
<circle cx="2256" cy="654" r="8" fill="#111"/>
<rect x="2886.5" y="620" width="92" height="14" rx="7" fill="none" stroke="#888" stroke-width="1.4" transform="rotate(-4 2932 627)"/>
<rect x="2886.5" y="636" width="92" height="14" rx="7" fill="none" stroke="#888" stroke-width="1.4" transform="rotate(-4 2932 643)"/>
<rect x="2886.5" y="662" width="92" height="14" rx="7" fill="none" stroke="#888" stroke-width="1.4" transform="rotate(-4 2932 669)"/>
<rect x="2886.5" y="688" width="92" height="14" rx="7" fill="none" stroke="#888" stroke-width="1.4" transform="rotate(-4 2932 695)"/>
<rect x="2886.5" y="704" width="92" height="14" rx="7" fill="none" stroke="#888" stroke-width="1.4" transform="rotate(-4 2932 711)"/>
<rect x="2886.5" y="717" width="92" height="14" rx="7" fill="none" stroke="#888" stroke-width="1.4" transform="rotate(-4 2932 724)"/>
<line x1="2887.5" y1="622" x2="2887.5" y2="731" stroke="#111" stroke-width="1.1"/>
<line x1="2975" y1="618" x2="2975" y2="731" stroke="#111" stroke-width="1.1"/>
<path d="M2878.7 624L2882.7 628.7L2885.8 618.5L2890.2 628.2L2893.2 618L2897.6 627.7L2900.6 617.5L2905 627.2L2908.1 617L2912.4 626.7L2915.5 616.5L2919.9 626.2L2922.9 616L2927.3 625.7L2930.3 615.5L2934.7 625.2L2938.1 620" fill="none" stroke="#111" stroke-width="3"/>
<path d="M2934 625L2928.3 631.2L2940.7 636.4L2929 643L2941.3 648.2L2929.7 654.8L2942 660L2930.3 666.6L2942.7 671.8L2931 678.3L2943.3 683.5L2931.7 690.1L2944 695.3L2932.3 701.9L2944.7 707.1L2933 713.7L2945.3 718.9L2933.7 725.5L2940 731" fill="none" stroke="#111" stroke-width="1.8"/>
<path d="M2887.8 732L2887.8 732M2887.8 741L2896.8 732M2887.8 750L2905.8 732M2887.8 759L2914.8 732M2893.8 762L2923.8 732M2902.8 762L2932.8 732M2911.8 762L2941.8 732M2920.8 762L2950.8 732M2929.8 762L2959.8 732M2938.8 762L2968.8 732M2947.8 762L2977.8 732M2956.8 762L2979.4 739.4M2965.8 762L2979.4 748.4M2974.8 762L2979.4 757.4" stroke="#222" stroke-width="2" fill="none" stroke-dasharray="6 3"/>
<line x1="2887.8" y1="732" x2="2979.4" y2="732" stroke="#111" stroke-width="2"/>
<circle cx="2898" cy="654.3" r="7" fill="#111"/>
<circle cx="2971.7" cy="695.6" r="7" fill="#111"/>
<line x1="2478" y1="206" x2="2538" y2="762" stroke="#111" stroke-width="1.3"/>
<line x1="2531.7" y1="206" x2="2531.7" y2="696" stroke="#111" stroke-width="1.3"/>
<line x1="2659.3" y1="206" x2="2660.5" y2="711" stroke="#111" stroke-width="1.3"/>
<line x1="2703" y1="206" x2="2660.5" y2="711" stroke="#111" stroke-width="1.3"/>
<line x1="2577" y1="320" x2="2577" y2="503" stroke="#111" stroke-width="1.3"/>
<line x1="2578.2" y1="533" x2="2578.2" y2="645" stroke="#111" stroke-width="1.3"/>
<line x1="2657.6" y1="630" x2="2657.6" y2="700" stroke="#111" stroke-width="1.3"/>
<line x1="2663.4" y1="630" x2="2663.4" y2="700" stroke="#111" stroke-width="1.3"/>
<path d="M2443.5 218.8Q2510 208 2578 213.8" fill="none" stroke="#111" stroke-width="1.3"/>
<path d="M2606.6 218.8Q2670 208 2739.3 213.8" fill="none" stroke="#111" stroke-width="1.3"/>
<line x1="2501.7" y1="386.6" x2="2577" y2="386.6" stroke="#111" stroke-width="1.3"/>
<path d="M2505 386.6L2517 383.6L2517 389.6Z" fill="#111" stroke="#111" stroke-width="0.5"/>
<circle cx="2501.7" cy="386" r="4.5" fill="#111"/>
<line x1="2577" y1="427" x2="2577" y2="400" stroke="#0b0bd0" stroke-width="3.5"/>
<path d="M2577 392L2582 410L2572 410Z" fill="#0b0bd0" stroke="#0b0bd0" stroke-width="0.5"/>
<circle cx="2577" cy="385.2" r="4.5" fill="#fff" stroke="#111" stroke-width="1.8"/>
<circle cx="2577" cy="427.1" r="4.5" fill="#fff" stroke="#111" stroke-width="1.8"/>
<line x1="2420" y1="440" x2="2576" y2="424.3" stroke="#111" stroke-width="1.3"/>
<line x1="2370.8" y1="452.4" x2="2390.5" y2="668" stroke="#111" stroke-width="1.3"/>
<path d="M2371.2 455L2374.7 466.7L2369.8 467.2Z" fill="#111" stroke="#111" stroke-width="0.5"/>
<path d="M2390.2 666L2386.7 654.3L2391.6 653.8Z" fill="#111" stroke="#111" stroke-width="0.5"/>
<line x1="2166.4" y1="553.3" x2="2866.5" y2="486" stroke="#111" stroke-width="1.3"/>
<path d="M2168 553L2179.7 549.5L2180.2 554.4Z" fill="#111" stroke="#111" stroke-width="0.5"/>
<path d="M2864 486.3L2852.3 489.8L2851.8 484.9Z" fill="#111" stroke="#111" stroke-width="0.5"/>
<line x1="2866.5" y1="478" x2="2880" y2="625" stroke="#111" stroke-width="1.3"/>
<line x1="2166" y1="545" x2="2178" y2="730" stroke="#111" stroke-width="1.3"/>
<path d="M2694.4 504.4L2764 545L2833.8 545" fill="none" stroke="#111" stroke-width="1.3"/>
<path d="M2379 564.5L2365.4 601.3L2282.2 601.3" fill="none" stroke="#111" stroke-width="1.3"/>
<path d="M2313 455L2420 440" fill="none" stroke="#111" stroke-width="1.3"/>
<path d="M2578.2 533L2574 553L2582.4 553Z" fill="#fff" stroke="#111" stroke-width="1.3"/>
<line x1="2578.2" y1="640" x2="2548" y2="640" stroke="#0b0bd0" stroke-width="3.5"/>
<path d="M2533.6 640L2551.6 635L2551.6 645Z" fill="#0b0bd0" stroke="#0b0bd0" stroke-width="0.5"/>
<line x1="2578.2" y1="640" x2="2640" y2="640" stroke="#111" stroke-width="1.3"/>
<circle cx="2578.2" cy="640" r="4.5" fill="#fff" stroke="#111" stroke-width="1.8"/>
<line x1="2494" y1="652" x2="2494" y2="680" stroke="#0b0bd0" stroke-width="3.5"/>
<path d="M2494 696L2489 678L2499 678Z" fill="#0b0bd0" stroke="#0b0bd0" stroke-width="0.5"/>
<circle cx="2494" cy="650" r="4.5" fill="#fff" stroke="#111" stroke-width="1.8"/>
<line x1="2425" y1="662" x2="2475" y2="658" stroke="#555" stroke-width="1.3"/>
<circle cx="2531.6" cy="696.1" r="5" fill="#111"/>
<line x1="2100" y1="724" x2="2531.6" y2="696.1" stroke="#111" stroke-width="1.2" stroke-dasharray="10 5"/>
<line x1="2440" y1="772" x2="2620" y2="770" stroke="#111" stroke-width="1.2" stroke-dasharray="10 5"/>
<line x1="2620" y1="767.8" x2="3000" y2="763" stroke="#111" stroke-width="1.2"/>
<line x1="2700" y1="712" x2="3000" y2="745" stroke="#111" stroke-width="1.2"/>
<path d="M2433.1 693A125.5 125.5 0 0 0 2570 884" fill="none" stroke="#0b0bd0" stroke-width="5.5"/>
<path d="M2592 878L2569.2 888.3L2567.3 874.4Z" fill="#0b0bd0" stroke="#0b0bd0" stroke-width="0.5"/>
<path d="M2839 762.7Q2838 700 2819 660" fill="none" stroke="#0b0bd0" stroke-width="4.5"/>
<path d="M2815 648L2827 664.9L2816.7 668.7Z" fill="#0b0bd0" stroke="#0b0bd0" stroke-width="0.5"/>
<circle cx="2839" cy="762.7" r="4.5" fill="#fff" stroke="#111" stroke-width="1.8"/>
<line x1="2774.5" y1="665.9" x2="2821" y2="647.8" stroke="#111" stroke-width="1.3"/>
<path d="M2704.8 658.1Q2740 690 2730.6 718Q2715 770 2660 781" fill="none" stroke="#111" stroke-width="2.4"/>
<line x1="2532.6" y1="212" x2="2500" y2="212" stroke="#0b0bd0" stroke-width="4"/>
<path d="M2485.5 212L2503.5 206.5L2503.5 217.5Z" fill="#0b0bd0" stroke="#0b0bd0" stroke-width="0.5"/>
<circle cx="2532.6" cy="212" r="4.5" fill="#fff" stroke="#111" stroke-width="1.8"/>
<line x1="2659.3" y1="213" x2="2690" y2="213" stroke="#0b0bd0" stroke-width="4"/>
<path d="M2703 213L2685 218.5L2685 207.5Z" fill="#0b0bd0" stroke="#0b0bd0" stroke-width="0.5"/>
<circle cx="2659.3" cy="213" r="4.5" fill="#fff" stroke="#111" stroke-width="1.8"/>
<line x1="2400.2" y1="710.4" x2="2400.2" y2="774.3" stroke="#111" stroke-width="1.3"/>
<line x1="2394" y1="710.4" x2="2450" y2="706" stroke="#111" stroke-width="1.3"/>
<line x1="2398" y1="774.3" x2="2460" y2="771" stroke="#111" stroke-width="1.3"/>
<path d="M2400.2 745.3L2367.3 791.7L2297.5 791.7" fill="none" stroke="#111" stroke-width="1.3"/>
<circle cx="2630.8" cy="1071.7" r="5" fill="#111"/>
<line x1="2630.8" y1="1071.7" x2="2632.4" y2="1180" stroke="#111" stroke-width="2.2"/>
<path d="M2632.4 1196L2628.4 1178L2636.4 1178Z" fill="#111" stroke="#111" stroke-width="0.5"/>
<line x1="2632.4" y1="1072.7" x2="2853.5" y2="1090.4" stroke="#111" stroke-width="1.3"/>
<line x1="2872" y1="732.5" x2="2848.7" y2="1088.8" stroke="#111" stroke-width="1.3"/>
<path d="M2849 1088L2847.3 1075.9L2852.3 1076.2Z" fill="#111" stroke="#111" stroke-width="0.5"/>
<path d="M2866.5 917.3L2885 930L2960 930" fill="none" stroke="#111" stroke-width="1.3"/>
<line x1="2630.8" y1="990.4" x2="2755" y2="942" stroke="#111" stroke-width="1.3"/>
<line x1="2592" y1="900" x2="2632.4" y2="992" stroke="#111" stroke-width="1.3"/>
<line x1="2680" y1="780" x2="2755" y2="942" stroke="#111" stroke-width="1.3"/>
<line x1="2640" y1="720" x2="2734" y2="900" stroke="#111" stroke-width="1.3"/>
<path d="M2693.7 967.8L2713 1004.9L2743.8 1004.9" fill="none" stroke="#111" stroke-width="1.3"/>
<path d="M2697 778.2L2751.2 811.8L2870 811.8" fill="none" stroke="#111" stroke-width="1.3"/>
<line x1="2870" y1="811.8" x2="2885" y2="580" stroke="#111" stroke-width="1.3"/>
<text x="1977.6" y="340" font-size="36">μ<tspan font-size="24" dy="0" font-style="normal">0</tspan></text>
<text x="2144.7" y="331.9" font-size="34" font-style="italic" textLength="271" lengthAdjust="spacingAndGlyphs">Center of mass <tspan font-size="46">m</tspan><tspan font-size="28" dy="4" font-style="normal">0</tspan></text>
<line x1="2144" y1="342.6" x2="2426.9" y2="342.6" stroke="#444" stroke-width="1.8"/>
<line x1="2426.9" y1="342.6" x2="2501.7" y2="386" stroke="#111" stroke-width="1.3"/>
<text x="2520.9" y="373.9" font-size="36" font-style="italic">x<tspan font-size="22" dy="3" font-style="normal">0</tspan></text>
<text x="2593.3" y="402.3" font-size="42" font-style="italic" font-weight="bold">y<tspan font-size="26" dy="0" font-style="normal">o</tspan></text>
<text x="2810.5" y="362.8" font-size="42" font-style="italic">m<tspan font-size="26" font-style="normal">0</tspan>, J<tspan font-size="26" font-style="normal">0</tspan></text>
<text x="3073.7" y="398.7" font-size="34">μ<tspan font-size="24" dy="0" font-style="normal">01</tspan></text>
<line x1="3078" y1="406" x2="3116" y2="406" stroke="#111" stroke-width="1.6"/>
<text x="3093" y="428.4" font-size="22">2</text>
<text x="2788" y="438.4" font-size="44" font-style="italic">c<tspan font-size="28" dy="0" font-style="normal">01/2</tspan></text>
<text x="2149.3" y="505" font-size="44" font-style="italic">c<tspan font-size="28" dy="0" font-style="normal">01/2</tspan></text>
<text x="2309.3" y="527.7" font-size="40" font-style="italic" font-weight="bold">H<tspan font-size="20" dy="0" font-style="italic">iz</tspan></text>
<text x="2771.3" y="530.8" font-size="40" font-style="italic" font-weight="bold">H<tspan font-size="20" dy="0" font-style="italic">iz</tspan></text>
<text x="2586" y="541" font-size="26" font-style="italic">y</text>
<text x="2300.8" y="592.5" font-size="40" font-style="italic">H<tspan font-size="20" dy="0" font-style="normal">01</tspan></text>
<text x="2757.3" y="614.9" font-size="42" font-style="italic" font-weight="bold">m<tspan font-size="24" font-style="normal">1</tspan> , J<tspan font-size="24" font-style="normal">1</tspan></text>
<text x="2898" y="607.9" font-size="38" font-style="italic">c<tspan font-size="26">x</tspan>, μ<tspan font-size="26">x</tspan></text>
<text x="2593.7" y="624.5" font-size="40" font-style="italic" font-weight="bold">x<tspan font-size="22" dy="0" font-style="normal">1</tspan></text>
<text x="2432.5" y="651.3" font-size="40" font-style="italic" font-weight="bold">y<tspan font-size="22" dy="0" font-style="normal">1</tspan></text>
<text x="2675" y="638.8" font-size="26" font-style="italic">x</text>
<text x="2845" y="671" font-size="46" font-weight="bold">φ<tspan font-size="26" dy="0" font-style="normal">2</tspan></text>
<text x="2948.4" y="681.4" font-size="38" font-style="italic">c<tspan font-size="26">y</tspan>, μ<tspan font-size="26">y</tspan></text>
<text x="2078" y="681.8" font-size="38" font-style="italic">c<tspan font-size="26">x</tspan>, μ<tspan font-size="26">x</tspan></text>
<text x="1939.8" y="676.3" font-size="34">μ<tspan font-size="24" dy="0" font-style="normal">01</tspan></text>
<line x1="1946.3" y1="684" x2="1983.6" y2="684" stroke="#111" stroke-width="1.6"/>
<text x="1958.4" y="705.9" font-size="22">2</text>
<text x="2281" y="728.5" font-size="38" font-style="italic">c<tspan font-size="26">y</tspan>, μ<tspan font-size="26">y</tspan></text>
<text x="2740.5" y="711" font-size="40">μ<tspan font-size="27" dy="0" font-style="normal">3</tspan></text>
<text x="2300.8" y="780" font-size="40" font-style="italic" font-weight="bold">H<tspan font-size="20" dy="0" font-style="normal">12</tspan></text>
<text x="2760" y="800.8" font-size="42" font-style="italic" font-weight="bold">m<tspan font-size="24" font-style="normal">2</tspan> , J<tspan font-size="24" font-style="normal">2</tspan></text>
<text x="2113.6" y="834.3" font-size="34" font-style="italic" textLength="265" lengthAdjust="spacingAndGlyphs">Center of mass <tspan font-size="46">m</tspan><tspan font-size="28" dy="4" font-style="normal">1</tspan></text>
<line x1="2140.7" y1="844" x2="2386.6" y2="844" stroke="#444" stroke-width="1.8"/>
<line x1="2386.6" y1="844" x2="2531.9" y2="696.8" stroke="#111" stroke-width="1.3"/>
<text x="2460.5" y="832.4" font-size="34">μ<tspan font-size="22" dy="0" font-style="normal">2</tspan></text>
<text x="2113.6" y="898.3" font-size="34" font-style="italic" textLength="268" lengthAdjust="spacingAndGlyphs">Center of mass <tspan font-size="46">m</tspan><tspan font-size="28" dy="4" font-style="normal">2</tspan></text>
<line x1="2144.5" y1="909.9" x2="2390.5" y2="909.9" stroke="#444" stroke-width="1.8"/>
<line x1="2390.5" y1="909.9" x2="2464" y2="840" stroke="#111" stroke-width="1.3"/>
<text x="2477.5" y="924.6" font-size="44" font-style="italic" font-weight="bold">M</text>
<text x="2903" y="920" font-size="40" font-style="italic" font-weight="bold">H<tspan font-size="20" dy="0" font-style="normal">23</tspan></text>
<text x="2115.5" y="977.7" font-size="34" font-style="italic" textLength="269" lengthAdjust="spacingAndGlyphs">Center of mass <tspan font-size="46">m</tspan><tspan font-size="28" dy="4" font-style="normal">3</tspan></text>
<line x1="2144.5" y1="991.2" x2="2390.5" y2="991.2" stroke="#444" stroke-width="1.8"/>
<line x1="2390.5" y1="991.2" x2="2630.7" y2="1070.6" stroke="#111" stroke-width="1.3"/>
<text x="2718" y="991.8" font-size="36" font-weight="bold">ε</text>
<text x="2643.7" y="1190.5" font-size="40" font-style="italic">G</text>
<text x="2567.9" y="1248.6" font-size="44" font-style="italic">m<tspan font-size="26" font-style="normal">3</tspan>,J<tspan font-size="26" font-style="normal">3</tspan></text>
<text x="2485.5" y="193.6" font-size="34" font-weight="bold">φ<tspan font-size="20" dy="0" font-style="normal">1</tspan></text>
<text x="2673.8" y="200" font-size="34" font-weight="bold">φ<tspan font-size="24" dy="0" font-style="normal">3</tspan></text>
</g>
</svg>
</body></html>
